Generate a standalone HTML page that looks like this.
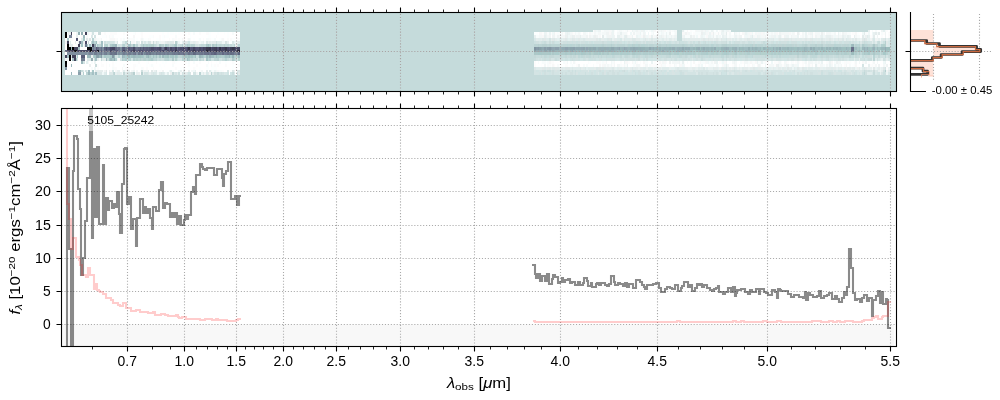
<!DOCTYPE html>
<html><head><meta charset="utf-8"><title>5105_25242 spectrum</title>
<style>html,body{margin:0;padding:0;background:#fff}svg{display:block;will-change:transform}</style></head>
<body>
<svg width="1000" height="400" viewBox="0 0 1000 400" font-family="'Liberation Sans', sans-serif" fill="#000">
<rect width="1000" height="400" fill="#fff"/>
<g shape-rendering="crispEdges">
<rect x="61.5" y="12.5" width="835" height="79" fill="#c5dbdb"/>
<path fill="#ffffff" d="M65 32H66.62V35H65zM71.48 32H73.1V35H71.48zM74.72 32H76.34V35H74.72zM79.58 32H81.2V35H79.58zM82.82 32H86.06V35H82.82zM92.55 32H94.17V35H92.55zM97.41 32H103.89V35H97.41zM105.51 32H110.37V35H105.51zM116.85 32H123.33V35H116.85zM124.95 32H133.06V35H124.95zM136.3 32H139.54V35H136.3zM142.78 32H162.22V35H142.78zM163.84 32H167.08V35H163.84zM168.7 32H170.32V35H168.7zM173.56 32H175.19V35H173.56zM176.81 32H178.43V35H176.81zM180.05 32H181.67V35H180.05zM183.29 32H184.91V35H183.29zM186.53 32H188.15V35H186.53zM191.39 32H193.01V35H191.39zM194.63 32H199.49V35H194.63zM201.11 32H205.97V35H201.11zM210.83 32H217.31V35H210.83zM218.94 32H223.8V35H218.94zM225.42 32H227.04V35H225.42zM228.66 32H231.9V35H228.66zM233.52 32H240V35H233.52zM65 35H66.62V38H65zM69.86 35H71.48V38H69.86zM73.1 35H76.34V38H73.1zM77.96 35H81.2V38H77.96zM84.44 35H86.06V38H84.44zM87.69 35H90.93V38H87.69zM92.55 35H94.17V38H92.55zM95.79 35H102.27V38H95.79zM107.13 35H108.75V38H107.13zM113.61 35H123.33V38H113.61zM124.95 35H128.19V38H124.95zM129.81 35H133.06V38H129.81zM134.68 35H141.16V38H134.68zM142.78 35H149.26V38H142.78zM154.12 35H158.98V38H154.12zM160.6 35H162.22V38H160.6zM168.7 35H175.19V38H168.7zM176.81 35H189.77V38H176.81zM191.39 35H207.59V38H191.39zM210.83 35H215.69V38H210.83zM217.31 35H227.04V38H217.31zM228.66 35H240V38H228.66zM65 38H66.62V41H65zM73.1 38H74.72V41H73.1zM77.96 38H81.2V41H77.96zM84.44 38H86.06V41H84.44zM92.55 38H94.17V41H92.55zM102.27 38H105.51V41H102.27zM107.13 38H108.75V41H107.13zM118.47 38H120.09V41H118.47zM134.68 38H136.3V41H134.68zM137.92 38H139.54V41H137.92zM150.88 38H152.5V41H150.88zM154.12 38H155.74V41H154.12zM160.6 38H162.22V41H160.6zM165.46 38H168.7V41H165.46zM170.32 38H171.94V41H170.32zM184.91 38H186.53V41H184.91zM191.39 38H193.01V41H191.39zM194.63 38H197.87V41H194.63zM201.11 38H202.73V41H201.11zM204.35 38H205.97V41H204.35zM215.69 38H218.94V41H215.69zM225.42 38H227.04V41H225.42zM228.66 38H230.28V41H228.66zM235.14 38H236.76V41H235.14zM68.24 41H69.86V44H68.24zM73.1 41H74.72V44H73.1zM76.34 41H77.96V44H76.34zM79.58 41H81.2V44H79.58zM86.06 41H87.69V44H86.06zM89.31 41H90.93V44H89.31zM107.13 41H108.75V44H107.13zM118.47 41H120.09V44H118.47zM139.54 41H141.16V44H139.54zM228.66 41H230.28V44H228.66zM65 44H66.62V47H65zM73.1 44H76.34V47H73.1zM102.27 44H103.89V47H102.27zM79.58 55H81.2V58H79.58zM84.44 55H86.06V58H84.44zM79.58 58H81.2V61H79.58zM65 61H66.62V64H65zM68.24 61H69.86V64H68.24zM71.48 61H77.96V64H71.48zM79.58 61H81.2V64H79.58zM84.44 61H86.06V64H84.44zM89.31 61H90.93V64H89.31zM92.55 61H94.17V64H92.55zM95.79 61H100.65V64H95.79zM102.27 61H105.51V64H102.27zM107.13 61H111.99V64H107.13zM113.61 61H115.23V64H113.61zM116.85 61H129.81V64H116.85zM131.44 61H137.92V64H131.44zM139.54 61H146.02V64H139.54zM149.26 61H155.74V64H149.26zM157.36 61H162.22V64H157.36zM163.84 61H165.46V64H163.84zM167.08 61H171.94V64H167.08zM176.81 61H184.91V64H176.81zM189.77 61H193.01V64H189.77zM194.63 61H199.49V64H194.63zM201.11 61H207.59V64H201.11zM209.21 61H210.83V64H209.21zM212.45 61H215.69V64H212.45zM217.31 61H218.94V64H217.31zM220.56 61H225.42V64H220.56zM227.04 61H231.9V64H227.04zM235.14 61H240V64H235.14zM65 64H66.62V67H65zM68.24 64H71.48V67H68.24zM73.1 64H76.34V67H73.1zM79.58 64H81.2V67H79.58zM84.44 64H89.31V67H84.44zM90.93 64H95.79V67H90.93zM99.03 64H100.65V67H99.03zM103.89 64H105.51V67H103.89zM107.13 64H108.75V67H107.13zM110.37 64H111.99V67H110.37zM115.23 64H123.33V67H115.23zM124.95 64H133.06V67H124.95zM137.92 64H139.54V67H137.92zM141.16 64H146.02V67H141.16zM147.64 64H149.26V67H147.64zM154.12 64H158.98V67H154.12zM160.6 64H163.84V67H160.6zM165.46 64H171.94V67H165.46zM173.56 64H186.53V67H173.56zM189.77 64H196.25V67H189.77zM197.87 64H205.97V67H197.87zM209.21 64H210.83V67H209.21zM218.94 64H225.42V67H218.94zM227.04 64H231.9V67H227.04zM233.52 64H238.38V67H233.52zM65 67H66.62V70H65zM68.24 67H69.86V70H68.24zM71.48 67H76.34V70H71.48zM77.96 67H81.2V70H77.96zM84.44 67H87.69V70H84.44zM89.31 67H90.93V70H89.31zM92.55 67H94.17V70H92.55zM95.79 67H97.41V70H95.79zM99.03 67H105.51V70H99.03zM107.13 67H111.99V70H107.13zM116.85 67H121.71V70H116.85zM126.57 67H128.19V70H126.57zM129.81 67H133.06V70H129.81zM134.68 67H141.16V70H134.68zM144.4 67H146.02V70H144.4zM147.64 67H152.5V70H147.64zM154.12 67H160.6V70H154.12zM162.22 67H175.19V70H162.22zM176.81 67H180.05V70H176.81zM181.67 67H183.29V70H181.67zM184.91 67H188.15V70H184.91zM189.77 67H193.01V70H189.77zM196.25 67H199.49V70H196.25zM201.11 67H205.97V70H201.11zM209.21 67H210.83V70H209.21zM217.31 67H231.9V70H217.31zM233.52 67H240V70H233.52zM65 70H66.62V72H65zM71.48 70H77.96V72H71.48zM89.31 70H90.93V72H89.31zM92.55 70H95.79V72H92.55zM100.65 70H102.27V72H100.65zM107.13 70H108.75V72H107.13zM113.61 70H115.23V72H113.61zM120.09 70H121.71V72H120.09zM129.81 70H131.44V72H129.81zM134.68 70H136.3V72H134.68zM137.92 70H139.54V72H137.92zM149.26 70H150.88V72H149.26zM163.84 70H165.46V72H163.84zM173.56 70H176.81V72H173.56zM181.67 70H183.29V72H181.67zM184.91 70H188.15V72H184.91zM189.77 70H191.39V72H189.77zM196.25 70H199.49V72H196.25zM202.73 70H205.97V72H202.73zM207.59 70H209.21V72H207.59zM223.8 70H227.04V72H223.8zM228.66 70H230.28V72H228.66zM235.14 70H236.76V72H235.14zM74.72 72H76.34V75H74.72zM79.58 72H81.2V75H79.58zM107.13 72H108.75V75H107.13zM191.39 72H193.01V75H191.39zM228.66 72H230.28V75H228.66z"/>
<path fill="#f8fcfc" d="M66.62 32H68.24V35H66.62zM94.17 32H95.79V35H94.17zM193.01 32H194.63V35H193.01zM231.9 32H233.52V35H231.9zM68.24 35H69.86V38H68.24zM108.75 35H110.37V38H108.75zM111.99 35H113.61V38H111.99zM175.19 35H176.81V38H175.19zM69.86 38H71.48V41H69.86zM97.41 38H99.03V41H97.41zM116.85 38H118.47V41H116.85zM123.33 38H124.95V41H123.33zM128.19 38H129.81V41H128.19zM133.06 38H134.68V41H133.06zM142.78 38H144.4V41H142.78zM147.64 38H149.26V41H147.64zM171.94 38H173.56V41H171.94zM189.77 38H191.39V41H189.77zM199.49 38H201.11V41H199.49zM205.97 38H209.21V41H205.97zM214.07 38H215.69V41H214.07zM220.56 38H222.18V41H220.56zM120.09 41H121.71V44H120.09zM180.05 41H181.67V44H180.05zM204.35 41H205.97V44H204.35zM68.24 44H69.86V47H68.24zM76.34 44H77.96V47H76.34zM82.82 44H84.44V47H82.82zM82.82 61H84.44V64H82.82zM90.93 61H92.55V64H90.93zM188.15 61H189.77V64H188.15zM193.01 61H194.63V64H193.01zM207.59 61H209.21V64H207.59zM218.94 61H220.56V64H218.94zM77.96 64H79.58V67H77.96zM108.75 64H110.37V67H108.75zM123.33 64H124.95V67H123.33zM150.88 64H152.5V67H150.88zM171.94 64H173.56V67H171.94zM205.97 64H207.59V67H205.97zM210.83 64H212.45V67H210.83zM82.82 67H84.44V70H82.82zM90.93 67H92.55V70H90.93zM111.99 67H113.61V70H111.99zM141.16 67H142.78V70H141.16zM183.29 67H184.91V70H183.29zM84.44 70H86.06V72H84.44zM102.27 70H103.89V72H102.27zM139.54 70H141.16V72H139.54zM158.98 70H160.6V72H158.98zM171.94 70H173.56V72H171.94zM212.45 70H214.07V72H212.45zM218.94 70H222.18V72H218.94zM230.28 70H231.9V72H230.28zM92.55 72H94.17V75H92.55zM134.68 72H136.3V75H134.68zM168.7 72H170.32V75H168.7zM197.87 72H199.49V75H197.87z"/>
<path fill="#ecf0f0" d="M68.24 32H69.86V35H68.24zM196.25 41H197.87V44H196.25zM207.59 41H209.21V44H207.59zM236.76 41H238.38V44H236.76zM235.14 44H236.76V47H235.14zM90.93 55H92.55V58H90.93zM89.31 64H90.93V67H89.31zM76.34 67H77.96V70H76.34zM108.75 70H110.37V72H108.75zM116.85 70H118.47V72H116.85zM188.15 70H189.77V72H188.15zM233.52 70H235.14V72H233.52zM137.92 72H139.54V75H137.92zM170.32 72H171.94V75H170.32z"/>
<path fill="#e4ecec" d="M69.86 32H71.48V35H69.86zM77.96 32H79.58V35H77.96zM81.2 32H82.82V35H81.2zM74.72 41H76.34V44H74.72zM92.55 41H94.17V44H92.55zM99.03 41H100.65V44H99.03zM165.46 41H167.08V44H165.46zM193.01 41H194.63V44H193.01zM209.21 41H210.83V44H209.21zM212.45 41H215.69V44H212.45zM220.56 41H222.18V44H220.56zM238.38 41H240V44H238.38zM84.44 44H86.06V47H84.44zM97.41 58H99.03V61H97.41zM103.89 58H105.51V61H103.89zM126.57 70H128.19V72H126.57zM183.29 70H184.91V72H183.29zM205.97 70H207.59V72H205.97zM118.47 72H120.09V75H118.47zM176.81 72H178.43V75H176.81zM184.91 72H186.53V75H184.91zM212.45 72H214.07V75H212.45z"/>
<path fill="#fcfcfc" d="M73.1 32H74.72V35H73.1zM89.31 32H90.93V35H89.31zM95.79 32H97.41V35H95.79zM103.89 32H105.51V35H103.89zM110.37 32H116.85V35H110.37zM123.33 32H124.95V35H123.33zM134.68 32H136.3V35H134.68zM141.16 32H142.78V35H141.16zM188.15 32H189.77V35H188.15zM199.49 32H201.11V35H199.49zM205.97 32H209.21V35H205.97zM66.62 35H68.24V38H66.62zM71.48 35H73.1V38H71.48zM105.51 35H107.13V38H105.51zM110.37 35H111.99V38H110.37zM141.16 35H142.78V38H141.16zM152.5 35H154.12V38H152.5zM158.98 35H160.6V38H158.98zM163.84 35H165.46V38H163.84zM215.69 35H217.31V38H215.69zM71.48 38H73.1V41H71.48zM90.93 38H92.55V41H90.93zM99.03 38H100.65V41H99.03zM108.75 38H110.37V41H108.75zM115.23 38H116.85V41H115.23zM120.09 38H121.71V41H120.09zM126.57 38H128.19V41H126.57zM129.81 38H133.06V41H129.81zM139.54 38H141.16V41H139.54zM149.26 38H150.88V41H149.26zM158.98 38H160.6V41H158.98zM168.7 38H170.32V41H168.7zM173.56 38H176.81V41H173.56zM178.43 38H180.05V41H178.43zM183.29 38H184.91V41H183.29zM186.53 38H188.15V41H186.53zM202.73 38H204.35V41H202.73zM209.21 38H210.83V41H209.21zM227.04 38H228.66V41H227.04zM230.28 38H231.9V41H230.28zM236.76 38H240V41H236.76zM134.68 41H136.3V44H134.68zM68.24 58H69.86V61H68.24zM84.44 58H86.06V61H84.44zM100.65 61H102.27V64H100.65zM105.51 61H107.13V64H105.51zM111.99 61H113.61V64H111.99zM137.92 61H139.54V64H137.92zM147.64 61H149.26V64H147.64zM155.74 61H157.36V64H155.74zM171.94 61H175.19V64H171.94zM184.91 61H186.53V64H184.91zM199.49 61H201.11V64H199.49zM210.83 61H212.45V64H210.83zM231.9 61H233.52V64H231.9zM95.79 64H99.03V67H95.79zM100.65 64H103.89V67H100.65zM105.51 64H107.13V67H105.51zM111.99 64H113.61V67H111.99zM133.06 64H136.3V67H133.06zM188.15 64H189.77V67H188.15zM196.25 64H197.87V67H196.25zM214.07 64H215.69V67H214.07zM217.31 64H218.94V67H217.31zM225.42 64H227.04V67H225.42zM238.38 64H240V67H238.38zM97.41 67H99.03V70H97.41zM105.51 67H107.13V70H105.51zM113.61 67H116.85V70H113.61zM124.95 67H126.57V70H124.95zM128.19 67H129.81V70H128.19zM133.06 67H134.68V70H133.06zM142.78 67H144.4V70H142.78zM146.02 67H147.64V70H146.02zM152.5 67H154.12V70H152.5zM175.19 67H176.81V70H175.19zM193.01 67H194.63V70H193.01zM157.36 70H158.98V72H157.36zM160.6 70H162.22V72H160.6zM199.49 70H201.11V72H199.49zM222.18 70H223.8V72H222.18zM65 72H66.62V75H65zM73.1 72H74.72V75H73.1zM139.54 72H141.16V75H139.54z"/>
<path fill="#ecf4f4" d="M76.34 32H77.96V35H76.34zM115.23 41H116.85V44H115.23zM158.98 41H160.6V44H158.98zM163.84 41H165.46V44H163.84zM178.43 41H180.05V44H178.43zM197.87 41H199.49V44H197.87zM201.11 41H202.73V44H201.11zM233.52 41H235.14V44H233.52zM77.96 55H79.58V58H77.96zM116.85 58H118.47V61H116.85zM69.86 61H71.48V64H69.86zM94.17 61H95.79V64H94.17zM133.06 70H134.68V72H133.06zM144.4 70H146.02V72H144.4zM214.07 70H215.69V72H214.07zM201.11 72H202.73V75H201.11z"/>
<path fill="#f4f8f8" d="M86.06 32H87.69V35H86.06zM90.93 32H92.55V35H90.93zM86.06 35H87.69V38H86.06zM76.34 38H77.96V41H76.34zM100.65 38H102.27V41H100.65zM141.16 38H142.78V41H141.16zM188.15 38H189.77V41H188.15zM102.27 41H103.89V44H102.27zM133.06 41H134.68V44H133.06zM199.49 41H201.11V44H199.49zM223.8 41H225.42V44H223.8zM66.62 44H68.24V47H66.62zM71.48 58H73.1V61H71.48zM99.03 58H100.65V61H99.03zM87.69 61H89.31V64H87.69zM76.34 64H77.96V67H76.34zM81.2 67H82.82V70H81.2zM79.58 70H81.2V72H79.58zM90.93 70H92.55V72H90.93zM115.23 70H116.85V72H115.23zM121.71 70H123.33V72H121.71zM124.95 70H126.57V72H124.95zM131.44 70H133.06V72H131.44zM136.3 70H137.92V72H136.3zM152.5 70H154.12V72H152.5zM191.39 70H193.01V72H191.39zM201.11 70H202.73V72H201.11zM215.69 70H217.31V72H215.69zM121.71 72H123.33V75H121.71zM180.05 72H181.67V75H180.05z"/>
<path fill="#f0f8f8" d="M87.69 32H89.31V35H87.69zM128.19 41H129.81V44H128.19zM222.18 41H223.8V44H222.18zM235.14 41H236.76V44H235.14zM89.31 58H90.93V61H89.31zM77.96 61H79.58V64H77.96zM94.17 67H95.79V70H94.17zM99.03 70H100.65V72H99.03zM168.7 70H170.32V72H168.7zM178.43 70H180.05V72H178.43zM193.01 70H194.63V72H193.01zM210.83 70H212.45V72H210.83zM102.27 72H103.89V75H102.27zM157.36 72H158.98V75H157.36zM165.46 72H167.08V75H165.46z"/>
<path fill="#fcffff" d="M133.06 32H134.68V35H133.06zM139.54 32H141.16V35H139.54zM162.22 32H163.84V35H162.22zM167.08 32H168.7V35H167.08zM170.32 32H173.56V35H170.32zM175.19 32H176.81V35H175.19zM178.43 32H180.05V35H178.43zM181.67 32H183.29V35H181.67zM184.91 32H186.53V35H184.91zM189.77 32H191.39V35H189.77zM209.21 32H210.83V35H209.21zM217.31 32H218.94V35H217.31zM223.8 32H225.42V35H223.8zM227.04 32H228.66V35H227.04zM102.27 35H105.51V38H102.27zM123.33 35H124.95V38H123.33zM128.19 35H129.81V38H128.19zM149.26 35H152.5V38H149.26zM162.22 35H163.84V38H162.22zM165.46 35H168.7V38H165.46zM189.77 35H191.39V38H189.77zM207.59 35H210.83V38H207.59zM227.04 35H228.66V38H227.04zM68.24 38H69.86V41H68.24zM74.72 38H76.34V41H74.72zM82.82 38H84.44V41H82.82zM105.51 38H107.13V41H105.51zM121.71 38H123.33V41H121.71zM124.95 38H126.57V41H124.95zM136.3 38H137.92V41H136.3zM144.4 38H147.64V41H144.4zM152.5 38H154.12V41H152.5zM155.74 38H158.98V41H155.74zM162.22 38H165.46V41H162.22zM176.81 38H178.43V41H176.81zM180.05 38H181.67V41H180.05zM193.01 38H194.63V41H193.01zM197.87 38H199.49V41H197.87zM210.83 38H214.07V41H210.83zM218.94 38H220.56V41H218.94zM223.8 38H225.42V41H223.8zM231.9 38H235.14V41H231.9zM71.48 41H73.1V44H71.48zM230.28 41H231.9V44H230.28zM65 58H66.62V61H65zM115.23 61H116.85V64H115.23zM129.81 61H131.44V64H129.81zM146.02 61H147.64V64H146.02zM162.22 61H163.84V64H162.22zM165.46 61H167.08V64H165.46zM175.19 61H176.81V64H175.19zM186.53 61H188.15V64H186.53zM215.69 61H217.31V64H215.69zM225.42 61H227.04V64H225.42zM233.52 61H235.14V64H233.52zM113.61 64H115.23V67H113.61zM136.3 64H137.92V67H136.3zM139.54 64H141.16V67H139.54zM146.02 64H147.64V67H146.02zM149.26 64H150.88V67H149.26zM152.5 64H154.12V67H152.5zM158.98 64H160.6V67H158.98zM163.84 64H165.46V67H163.84zM186.53 64H188.15V67H186.53zM207.59 64H209.21V67H207.59zM212.45 64H214.07V67H212.45zM215.69 64H217.31V67H215.69zM231.9 64H233.52V67H231.9zM66.62 67H68.24V70H66.62zM69.86 67H71.48V70H69.86zM87.69 67H89.31V70H87.69zM123.33 67H124.95V70H123.33zM160.6 67H162.22V70H160.6zM180.05 67H181.67V70H180.05zM188.15 67H189.77V70H188.15zM194.63 67H196.25V70H194.63zM199.49 67H201.11V70H199.49zM205.97 67H209.21V70H205.97zM210.83 67H217.31V70H210.83zM231.9 67H233.52V70H231.9zM165.46 70H168.7V72H165.46zM176.81 70H178.43V72H176.81zM84.44 72H86.06V75H84.44zM235.14 72H236.76V75H235.14z"/>
<path fill="#e8f0f0" d="M76.34 35H77.96V38H76.34zM77.96 41H79.58V44H77.96zM82.82 41H84.44V44H82.82zM108.75 41H110.37V44H108.75zM137.92 41H139.54V44H137.92zM142.78 41H144.4V44H142.78zM154.12 41H155.74V44H154.12zM181.67 41H183.29V44H181.67zM189.77 41H193.01V44H189.77zM202.73 41H204.35V44H202.73zM210.83 41H212.45V44H210.83zM227.04 41H228.66V44H227.04zM79.58 44H81.2V47H79.58zM87.69 44H89.31V47H87.69zM77.96 58H79.58V61H77.96zM66.62 61H68.24V64H66.62zM66.62 64H68.24V67H66.62zM86.06 70H89.31V72H86.06zM118.47 70H120.09V72H118.47zM128.19 70H129.81V72H128.19zM154.12 70H155.74V72H154.12zM180.05 70H181.67V72H180.05zM194.63 70H196.25V72H194.63zM66.62 72H68.24V75H66.62zM110.37 72H111.99V75H110.37zM115.23 72H116.85V75H115.23zM136.3 72H137.92V75H136.3zM142.78 72H144.4V75H142.78zM149.26 72H150.88V75H149.26z"/>
<path fill="#f8f8f8" d="M81.2 35H82.82V38H81.2zM133.06 35H134.68V38H133.06zM87.69 38H89.31V41H87.69zM95.79 38H97.41V41H95.79zM110.37 38H115.23V41H110.37zM181.67 38H183.29V41H181.67zM222.18 38H223.8V41H222.18zM84.44 41H86.06V44H84.44zM131.44 41H133.06V44H131.44zM173.56 41H175.19V44H173.56zM118.47 58H120.09V61H118.47zM121.71 67H123.33V70H121.71zM95.79 70H97.41V72H95.79zM110.37 70H111.99V72H110.37zM217.31 70H218.94V72H217.31z"/>
<path fill="#f0f4f4" d="M82.82 35H84.44V38H82.82zM94.17 38H95.79V41H94.17zM65 41H66.62V44H65zM97.41 41H99.03V44H97.41zM150.88 41H152.5V44H150.88zM160.6 41H163.84V44H160.6zM92.55 58H94.17V61H92.55zM103.89 70H105.51V72H103.89zM142.78 70H144.4V72H142.78zM146.02 70H147.64V72H146.02zM162.22 70H163.84V72H162.22zM81.2 72H82.82V75H81.2zM99.03 72H102.27V75H99.03zM196.25 72H197.87V75H196.25zM204.35 72H205.97V75H204.35zM209.21 72H210.83V75H209.21z"/>
<path fill="#dce8e8" d="M90.93 35H92.55V38H90.93zM89.31 38H90.93V41H89.31zM66.62 41H68.24V44H66.62zM105.51 41H107.13V44H105.51zM116.85 41H118.47V44H116.85zM123.33 41H124.95V44H123.33zM170.32 41H171.94V44H170.32zM183.29 41H184.91V44H183.29zM186.53 41H188.15V44H186.53zM205.97 41H207.59V44H205.97zM231.9 41H233.52V44H231.9zM107.13 44H108.75V47H107.13zM116.85 44H118.47V47H116.85zM137.92 44H139.54V47H137.92zM86.06 58H89.31V61H86.06zM82.82 70H84.44V72H82.82zM155.74 70H157.36V72H155.74zM227.04 70H228.66V72H227.04zM231.9 70H233.52V72H231.9zM236.76 70H238.38V72H236.76zM68.24 72H69.86V75H68.24zM147.64 72H149.26V75H147.64zM150.88 72H152.5V75H150.88zM155.74 72H157.36V75H155.74zM158.98 72H160.6V75H158.98zM173.56 72H175.19V75H173.56zM183.29 72H184.91V75H183.29zM186.53 72H188.15V75H186.53zM223.8 72H225.42V75H223.8zM233.52 72H235.14V75H233.52z"/>
<path fill="#d4e4e4" d="M94.17 35H95.79V38H94.17zM66.62 38H68.24V41H66.62zM100.65 41H102.27V44H100.65zM147.64 41H149.26V44H147.64zM176.81 41H178.43V44H176.81zM90.93 44H92.55V47H90.93zM95.79 44H97.41V47H95.79zM157.36 44H158.98V47H157.36zM176.81 44H178.43V47H176.81zM183.29 44H184.91V47H183.29zM210.83 44H212.45V47H210.83zM116.85 55H118.47V58H116.85zM126.57 58H128.19V61H126.57zM180.05 58H181.67V61H180.05zM236.76 58H238.38V61H236.76zM81.2 64H82.82V67H81.2zM77.96 70H79.58V72H77.96zM97.41 70H99.03V72H97.41zM94.17 72H95.79V75H94.17zM128.19 72H129.81V75H128.19zM144.4 72H147.64V75H144.4zM152.5 72H154.12V75H152.5zM160.6 72H162.22V75H160.6zM175.19 72H176.81V75H175.19zM181.67 72H183.29V75H181.67zM193.01 72H196.25V75H193.01zM215.69 72H217.31V75H215.69zM218.94 72H220.56V75H218.94zM222.18 72H223.8V75H222.18z"/>
<path fill="#e0ecec" d="M81.2 38H82.82V41H81.2zM69.86 41H71.48V44H69.86zM121.71 41H123.33V44H121.71zM136.3 41H137.92V44H136.3zM157.36 41H158.98V44H157.36zM168.7 41H170.32V44H168.7zM217.31 41H220.56V44H217.31zM102.27 58H103.89V61H102.27zM123.33 70H124.95V72H123.33zM147.64 70H149.26V72H147.64zM209.21 70H210.83V72H209.21zM87.69 72H89.31V75H87.69zM103.89 72H105.51V75H103.89zM116.85 72H118.47V75H116.85zM124.95 72H128.19V75H124.95zM163.84 72H165.46V75H163.84zM167.08 72H168.7V75H167.08zM202.73 72H204.35V75H202.73z"/>
<path fill="#e0e8e8" d="M86.06 38H87.69V41H86.06zM167.08 41H168.7V44H167.08zM171.94 41H173.56V44H171.94zM184.91 41H186.53V44H184.91zM77.96 44H79.58V47H77.96zM204.35 58H205.97V61H204.35zM105.51 70H107.13V72H105.51zM150.88 70H152.5V72H150.88zM207.59 72H209.21V75H207.59zM238.38 72H240V75H238.38z"/>
<path fill="#a0bcc0" d="M81.2 41H82.82V44H81.2zM89.31 44H90.93V47H89.31zM86.06 55H87.69V58H86.06zM123.33 55H124.95V58H123.33zM134.68 55H136.3V58H134.68zM201.11 55H202.73V58H201.11zM210.83 55H214.07V58H210.83zM225.42 55H227.04V58H225.42zM105.51 58H107.13V61H105.51z"/>
<path fill="#cce0e0" d="M87.69 41H89.31V44H87.69zM126.57 44H128.19V47H126.57zM139.54 44H141.16V47H139.54zM163.84 44H165.46V47H163.84zM231.9 44H233.52V47H231.9zM115.23 55H116.85V58H115.23zM120.09 55H121.71V58H120.09zM66.62 58H68.24V61H66.62zM157.36 58H158.98V61H157.36zM210.83 58H214.07V61H210.83zM218.94 58H220.56V61H218.94zM228.66 58H230.28V61H228.66zM76.34 72H77.96V75H76.34zM178.43 72H180.05V75H178.43zM236.76 72H238.38V75H236.76z"/>
<path fill="#c4d8d8" d="M90.93 41H92.55V44H90.93zM92.55 44H94.17V47H92.55zM131.44 44H133.06V47H131.44zM170.32 44H171.94V47H170.32zM180.05 44H181.67V47H180.05zM202.73 44H204.35V47H202.73zM222.18 44H223.8V47H222.18zM230.28 44H231.9V47H230.28zM84.44 47H86.06V50H84.44zM100.65 58H102.27V61H100.65zM189.77 58H191.39V61H189.77zM222.18 58H223.8V61H222.18zM227.04 58H228.66V61H227.04zM235.14 58H236.76V61H235.14zM111.99 72H113.61V75H111.99zM123.33 72H124.95V75H123.33zM171.94 72H173.56V75H171.94z"/>
<path fill="#bcd4d4" d="M94.17 41H95.79V44H94.17zM97.41 44H99.03V47H97.41zM121.71 44H123.33V47H121.71zM136.3 44H137.92V47H136.3zM141.16 44H142.78V47H141.16zM171.94 44H173.56V47H171.94zM184.91 44H186.53V47H184.91zM218.94 44H220.56V47H218.94zM227.04 44H228.66V47H227.04zM233.52 44H235.14V47H233.52zM238.38 44H240V47H238.38zM79.58 47H81.2V50H79.58zM65 55H66.62V58H65zM102.27 55H103.89V58H102.27zM157.36 55H158.98V58H157.36zM180.05 55H181.67V58H180.05zM134.68 58H136.3V61H134.68zM137.92 58H139.54V61H137.92zM146.02 58H147.64V61H146.02zM152.5 58H154.12V61H152.5zM155.74 58H157.36V61H155.74zM165.46 58H167.08V61H165.46zM183.29 58H184.91V61H183.29zM199.49 58H201.11V61H199.49zM207.59 58H209.21V61H207.59zM214.07 58H217.31V61H214.07zM86.06 72H87.69V75H86.06zM89.31 72H90.93V75H89.31zM95.79 72H97.41V75H95.79zM113.61 72H115.23V75H113.61zM199.49 72H201.11V75H199.49zM210.83 72H212.45V75H210.83z"/>
<path fill="#a0c0c0" d="M95.79 41H97.41V44H95.79zM131.44 55H133.06V58H131.44zM137.92 55H141.16V58H137.92zM146.02 55H147.64V58H146.02zM167.08 55H168.7V58H167.08zM188.15 55H189.77V58H188.15zM194.63 55H196.25V58H194.63zM186.53 58H188.15V61H186.53z"/>
<path fill="#d0e0e0" d="M103.89 41H105.51V44H103.89zM141.16 41H142.78V44H141.16zM215.69 41H217.31V44H215.69zM69.86 44H71.48V47H69.86zM108.75 44H110.37V47H108.75zM124.95 44H126.57V47H124.95zM194.63 44H197.87V47H194.63zM236.76 44H238.38V47H236.76zM69.86 58H71.48V61H69.86zM120.09 58H121.71V61H120.09zM160.6 58H163.84V61H160.6zM173.56 58H175.19V61H173.56zM220.56 58H222.18V61H220.56zM141.16 70H142.78V72H141.16zM214.07 72H215.69V75H214.07zM220.56 72H222.18V75H220.56z"/>
<path fill="#b0cccc" d="M110.37 41H111.99V44H110.37zM110.37 44H111.99V47H110.37zM152.5 44H154.12V47H152.5zM173.56 44H175.19V47H173.56zM181.67 44H183.29V47H181.67zM92.55 55H94.17V58H92.55zM105.51 55H110.37V58H105.51zM181.67 55H183.29V58H181.67zM193.01 55H194.63V58H193.01zM220.56 55H223.8V58H220.56zM233.52 55H235.14V58H233.52zM133.06 58H134.68V61H133.06zM188.15 58H189.77V61H188.15z"/>
<path fill="#d8e8e8" d="M111.99 41H115.23V44H111.99zM126.57 41H128.19V44H126.57zM144.4 41H146.02V44H144.4zM197.87 58H199.49V61H197.87zM81.2 61H82.82V64H81.2zM111.99 70H113.61V72H111.99zM105.51 72H107.13V75H105.51zM154.12 72H155.74V75H154.12zM162.22 72H163.84V75H162.22zM205.97 72H207.59V75H205.97zM225.42 72H227.04V75H225.42z"/>
<path fill="#c4dcdc" d="M124.95 41H126.57V44H124.95zM204.35 44H205.97V47H204.35zM82.82 58H84.44V61H82.82zM168.7 58H170.32V61H168.7zM193.01 58H196.25V61H193.01zM69.86 70H71.48V72H69.86z"/>
<path fill="#c0d8d8" d="M129.81 41H131.44V44H129.81zM154.12 44H155.74V47H154.12zM189.77 44H191.39V47H189.77zM201.11 44H202.73V47H201.11zM217.31 44H218.94V47H217.31zM220.56 44H222.18V47H220.56zM225.42 44H227.04V47H225.42zM89.31 55H90.93V58H89.31zM160.6 55H162.22V58H160.6zM197.87 55H199.49V58H197.87zM154.12 58H155.74V61H154.12zM163.84 58H165.46V61H163.84zM196.25 58H197.87V61H196.25zM202.73 58H204.35V61H202.73zM223.8 58H225.42V61H223.8zM77.96 72H79.58V75H77.96z"/>
<path fill="#e4f0f0" d="M146.02 41H147.64V44H146.02zM194.63 41H196.25V44H194.63zM73.1 58H74.72V61H73.1zM86.06 61H87.69V64H86.06zM71.48 64H73.1V67H71.48zM68.24 70H69.86V72H68.24zM170.32 70H171.94V72H170.32zM69.86 72H73.1V75H69.86zM120.09 72H121.71V75H120.09z"/>
<path fill="#d8e4e4" d="M149.26 41H150.88V44H149.26zM155.74 41H157.36V44H155.74zM225.42 41H227.04V44H225.42zM120.09 44H121.71V47H120.09zM197.87 44H199.49V47H197.87zM76.34 58H77.96V61H76.34zM82.82 64H84.44V67H82.82zM238.38 70H240V72H238.38zM129.81 72H131.44V75H129.81zM189.77 72H191.39V75H189.77z"/>
<path fill="#ccdcdc" d="M152.5 41H154.12V44H152.5zM113.61 44H115.23V47H113.61zM168.7 44H170.32V47H168.7zM107.13 58H108.75V61H107.13zM230.28 58H231.9V61H230.28zM131.44 72H133.06V75H131.44z"/>
<path fill="#b8d0d0" d="M175.19 41H176.81V44H175.19zM103.89 44H105.51V47H103.89zM160.6 44H163.84V47H160.6zM167.08 44H168.7V47H167.08zM193.01 44H194.63V47H193.01zM214.07 44H215.69V47H214.07zM223.8 44H225.42V47H223.8zM77.96 47H79.58V50H77.96zM68.24 55H69.86V58H68.24zM74.72 55H76.34V58H74.72zM144.4 55H146.02V58H144.4zM168.7 55H170.32V58H168.7zM173.56 55H175.19V58H173.56zM235.14 55H236.76V58H235.14zM123.33 58H124.95V61H123.33zM142.78 58H144.4V61H142.78zM217.31 58H218.94V61H217.31zM233.52 58H235.14V61H233.52zM90.93 72H92.55V75H90.93zM133.06 72H134.68V75H133.06zM141.16 72H142.78V75H141.16z"/>
<path fill="#d0e4e4" d="M188.15 41H189.77V44H188.15zM71.48 44H73.1V47H71.48zM118.47 44H120.09V47H118.47zM87.69 55H89.31V58H87.69zM131.44 58H133.06V61H131.44zM178.43 58H180.05V61H178.43zM108.75 72H110.37V75H108.75zM188.15 72H189.77V75H188.15zM227.04 72H228.66V75H227.04zM230.28 72H231.9V75H230.28z"/>
<path fill="#a4c4c4" d="M81.2 44H82.82V47H81.2zM111.99 44H113.61V47H111.99zM133.06 44H134.68V47H133.06zM175.19 44H176.81V47H175.19zM207.59 44H209.21V47H207.59zM65 47H66.62V50H65zM74.72 47H76.34V50H74.72zM94.17 55H95.79V58H94.17zM141.16 55H142.78V58H141.16zM152.5 55H154.12V58H152.5zM155.74 55H157.36V58H155.74zM158.98 55H160.6V58H158.98zM165.46 55H167.08V58H165.46zM171.94 55H173.56V58H171.94zM175.19 55H176.81V58H175.19zM184.91 55H186.53V58H184.91zM191.39 55H193.01V58H191.39zM111.99 58H113.61V61H111.99zM205.97 58H207.59V61H205.97z"/>
<path fill="#accccc" d="M86.06 44H87.69V47H86.06zM165.46 44H167.08V47H165.46zM176.81 55H178.43V58H176.81zM230.28 55H231.9V58H230.28zM121.71 58H123.33V61H121.71zM124.95 58H126.57V61H124.95zM150.88 58H152.5V61H150.88z"/>
<path fill="#8ca0ac" d="M94.17 44H95.79V47H94.17zM84.44 52H87.69V55H84.44zM95.79 55H97.41V58H95.79z"/>
<path fill="#c0d4d4" d="M99.03 44H100.65V47H99.03zM178.43 55H180.05V58H178.43zM141.16 58H142.78V61H141.16zM191.39 58H193.01V61H191.39z"/>
<path fill="#8094a0" d="M100.65 44H102.27V47H100.65zM81.2 52H82.82V55H81.2zM107.13 52H108.75V55H107.13zM120.09 52H121.71V55H120.09z"/>
<path fill="#b4d0d0" d="M105.51 44H107.13V47H105.51zM123.33 44H124.95V47H123.33zM149.26 44H150.88V47H149.26zM188.15 44H189.77V47H188.15zM191.39 44H193.01V47H191.39zM209.21 44H210.83V47H209.21zM73.1 55H74.72V58H73.1zM154.12 55H155.74V58H154.12zM204.35 55H205.97V58H204.35zM236.76 55H238.38V58H236.76zM74.72 58H76.34V61H74.72zM95.79 58H97.41V61H95.79zM115.23 58H116.85V61H115.23zM128.19 58H129.81V61H128.19zM147.64 58H149.26V61H147.64zM209.21 58H210.83V61H209.21zM225.42 58H227.04V61H225.42zM82.82 72H84.44V75H82.82zM97.41 72H99.03V75H97.41z"/>
<path fill="#9cb8bc" d="M115.23 44H116.85V47H115.23zM71.48 47H73.1V50H71.48zM77.96 52H79.58V55H77.96zM133.06 55H134.68V58H133.06zM162.22 55H163.84V58H162.22zM205.97 55H207.59V58H205.97zM215.69 55H217.31V58H215.69zM238.38 55H240V58H238.38zM81.2 58H82.82V61H81.2zM110.37 58H111.99V61H110.37z"/>
<path fill="#a4c0c4" d="M128.19 44H129.81V47H128.19zM136.3 55H137.92V58H136.3zM227.04 55H228.66V58H227.04z"/>
<path fill="#acc8c8" d="M129.81 44H131.44V47H129.81zM142.78 44H144.4V47H142.78zM158.98 44H160.6V47H158.98zM186.53 44H188.15V47H186.53zM205.97 44H207.59V47H205.97zM212.45 44H214.07V47H212.45zM66.62 55H68.24V58H66.62zM149.26 55H150.88V58H149.26zM183.29 55H184.91V58H183.29zM186.53 55H188.15V58H186.53zM214.07 55H215.69V58H214.07zM218.94 55H220.56V58H218.94zM171.94 58H173.56V61H171.94zM231.9 58H233.52V61H231.9zM66.62 70H68.24V72H66.62z"/>
<path fill="#c8dcdc" d="M134.68 44H136.3V47H134.68zM155.74 44H157.36V47H155.74zM178.43 44H180.05V47H178.43zM199.49 44H201.11V47H199.49zM228.66 44H230.28V47H228.66zM196.25 55H197.87V58H196.25zM94.17 58H95.79V61H94.17zM158.98 58H160.6V61H158.98zM170.32 58H171.94V61H170.32zM176.81 58H178.43V61H176.81zM184.91 58H186.53V61H184.91zM201.11 58H202.73V61H201.11zM81.2 70H82.82V72H81.2zM217.31 72H218.94V75H217.31zM231.9 72H233.52V75H231.9z"/>
<path fill="#b8d4d4" d="M144.4 44H146.02V47H144.4zM147.64 44H149.26V47H147.64zM118.47 55H120.09V58H118.47zM150.88 55H152.5V58H150.88zM167.08 58H168.7V61H167.08zM181.67 58H183.29V61H181.67z"/>
<path fill="#b4d0cc" d="M146.02 44H147.64V47H146.02zM150.88 44H152.5V47H150.88zM79.58 50H81.2V52H79.58zM129.81 58H131.44V61H129.81zM136.3 58H137.92V61H136.3zM139.54 58H141.16V61H139.54zM144.4 58H146.02V61H144.4zM149.26 58H150.88V61H149.26zM175.19 58H176.81V61H175.19zM238.38 58H240V61H238.38z"/>
<path fill="#a8c8c8" d="M215.69 44H217.31V47H215.69zM69.86 55H73.1V58H69.86zM76.34 55H77.96V58H76.34zM103.89 55H105.51V58H103.89zM110.37 55H111.99V58H110.37zM124.95 55H128.19V58H124.95zM129.81 55H131.44V58H129.81zM142.78 55H144.4V58H142.78zM163.84 55H165.46V58H163.84zM170.32 55H171.94V58H170.32zM189.77 55H191.39V58H189.77zM202.73 55H204.35V58H202.73zM207.59 55H209.21V58H207.59zM217.31 55H218.94V58H217.31zM223.8 55H225.42V58H223.8zM108.75 58H110.37V61H108.75z"/>
<path fill="#788898" d="M66.62 47H68.24V50H66.62zM82.82 47H84.44V50H82.82zM120.09 50H121.71V52H120.09zM99.03 52H100.65V55H99.03zM108.75 52H110.37V55H108.75zM121.71 52H123.33V55H121.71zM124.95 52H126.57V55H124.95zM131.44 52H133.06V55H131.44zM154.12 52H155.74V55H154.12zM184.91 52H186.53V55H184.91z"/>
<path fill="#94acb0" d="M68.24 47H69.86V50H68.24zM90.93 58H92.55V61H90.93z"/>
<path fill="#8ca4ac" d="M69.86 47H71.48V50H69.86zM73.1 52H74.72V55H73.1zM76.34 52H77.96V55H76.34z"/>
<path fill="#8494a4" d="M73.1 47H74.72V50H73.1zM74.72 52H76.34V55H74.72zM102.27 52H103.89V55H102.27zM136.3 52H137.92V55H136.3zM142.78 52H144.4V55H142.78z"/>
<path fill="#707c90" d="M76.34 47H77.96V50H76.34zM89.31 47H90.93V50H89.31zM116.85 47H118.47V50H116.85zM87.69 50H89.31V52H87.69zM99.03 50H100.65V52H99.03zM94.17 52H97.41V55H94.17zM105.51 52H107.13V55H105.51zM123.33 52H124.95V55H123.33zM128.19 52H131.44V55H128.19zM133.06 52H134.68V55H133.06zM147.64 52H149.26V55H147.64zM158.98 52H160.6V55H158.98zM167.08 52H168.7V55H167.08zM171.94 52H173.56V55H171.94zM175.19 52H178.43V55H175.19zM189.77 52H193.01V55H189.77zM196.25 52H199.49V55H196.25zM217.31 52H218.94V55H217.31zM220.56 52H222.18V55H220.56zM223.8 52H225.42V55H223.8z"/>
<path fill="#748094" d="M81.2 47H82.82V50H81.2zM87.69 47H89.31V50H87.69zM99.03 47H100.65V50H99.03zM68.24 50H71.48V52H68.24zM82.82 50H84.44V52H82.82zM92.55 50H94.17V52H92.55zM103.89 52H105.51V55H103.89zM152.5 52H154.12V55H152.5zM157.36 52H158.98V55H157.36zM162.22 52H163.84V55H162.22zM186.53 52H188.15V55H186.53zM202.73 52H204.35V55H202.73zM233.52 52H238.38V55H233.52z"/>
<path fill="#687088" d="M86.06 47H87.69V50H86.06zM100.65 47H102.27V50H100.65zM118.47 47H120.09V50H118.47zM136.3 47H137.92V50H136.3zM65 50H66.62V52H65zM71.48 50H73.1V52H71.48zM97.41 50H99.03V52H97.41zM103.89 50H105.51V52H103.89zM107.13 50H110.37V52H107.13zM126.57 50H128.19V52H126.57zM110.37 52H111.99V55H110.37zM115.23 52H116.85V55H115.23zM141.16 52H142.78V55H141.16zM183.29 52H184.91V55H183.29zM188.15 52H189.77V55H188.15zM204.35 52H207.59V55H204.35zM231.9 52H233.52V55H231.9z"/>
<path fill="#7c8c9c" d="M90.93 47H92.55V50H90.93zM102.27 47H103.89V50H102.27zM120.09 47H121.71V50H120.09zM97.41 52H99.03V55H97.41zM118.47 52H120.09V55H118.47zM81.2 55H82.82V58H81.2z"/>
<path fill="#6c788c" d="M92.55 47H94.17V50H92.55zM124.95 47H126.57V50H124.95zM111.99 52H113.61V55H111.99zM137.92 52H139.54V55H137.92zM155.74 52H157.36V55H155.74zM199.49 52H201.11V55H199.49zM218.94 52H220.56V55H218.94zM228.66 52H230.28V55H228.66z"/>
<path fill="#7c889c" d="M94.17 47H95.79V50H94.17zM84.44 50H86.06V52H84.44zM90.93 52H92.55V55H90.93z"/>
<path fill="#545474" d="M95.79 47H97.41V50H95.79zM128.19 47H129.81V50H128.19zM142.78 47H144.4V50H142.78zM154.12 47H155.74V50H154.12zM167.08 47H168.7V50H167.08zM171.94 47H175.19V50H171.94zM178.43 47H180.05V50H178.43zM184.91 47H186.53V50H184.91zM191.39 47H193.01V50H191.39zM196.25 47H197.87V50H196.25zM105.51 50H107.13V52H105.51zM146.02 50H147.64V52H146.02zM150.88 50H152.5V52H150.88zM176.81 50H178.43V52H176.81z"/>
<path fill="#646c84" d="M97.41 47H99.03V50H97.41zM168.7 47H170.32V50H168.7zM176.81 47H178.43V50H176.81zM77.96 50H79.58V52H77.96zM90.93 50H92.55V52H90.93zM111.99 50H113.61V52H111.99zM124.95 50H126.57V52H124.95zM165.46 50H167.08V52H165.46zM82.82 52H84.44V55H82.82zM194.63 52H196.25V55H194.63zM207.59 52H209.21V55H207.59zM212.45 52H214.07V55H212.45zM215.69 52H217.31V55H215.69zM227.04 52H228.66V55H227.04zM230.28 52H231.9V55H230.28z"/>
<path fill="#5c607c" d="M103.89 47H105.51V50H103.89zM121.71 47H123.33V50H121.71zM129.81 47H133.06V50H129.81zM144.4 47H146.02V50H144.4zM160.6 47H162.22V50H160.6zM100.65 50H102.27V52H100.65zM115.23 50H116.85V52H115.23zM128.19 50H129.81V52H128.19zM136.3 50H137.92V52H136.3zM142.78 50H144.4V52H142.78zM157.36 50H158.98V52H157.36zM168.7 50H170.32V52H168.7zM180.05 50H181.67V52H180.05zM214.07 52H215.69V55H214.07z"/>
<path fill="#50506c" d="M105.51 47H107.13V50H105.51zM131.44 50H133.06V52H131.44zM137.92 50H139.54V52H137.92zM188.15 50H189.77V52H188.15z"/>
<path fill="#5c647c" d="M107.13 47H108.75V50H107.13zM147.64 47H149.26V50H147.64zM113.61 50H115.23V52H113.61zM154.12 50H155.74V52H154.12zM238.38 52H240V55H238.38z"/>
<path fill="#585878" d="M108.75 47H110.37V50H108.75zM155.74 47H157.36V50H155.74zM189.77 47H191.39V50H189.77zM116.85 50H118.47V52H116.85zM134.68 50H136.3V52H134.68zM139.54 50H141.16V52H139.54zM178.43 50H180.05V52H178.43z"/>
<path fill="#484868" d="M110.37 47H111.99V50H110.37zM235.14 47H236.76V50H235.14zM162.22 50H163.84V52H162.22zM181.67 50H183.29V52H181.67z"/>
<path fill="#444460" d="M111.99 47H115.23V50H111.99zM175.19 47H176.81V50H175.19zM183.29 47H184.91V50H183.29zM186.53 47H188.15V50H186.53zM193.01 47H194.63V50H193.01zM202.73 47H204.35V50H202.73zM212.45 47H214.07V50H212.45zM222.18 47H223.8V50H222.18zM236.76 47H240V50H236.76zM123.33 50H124.95V52H123.33zM186.53 50H188.15V52H186.53zM194.63 50H196.25V52H194.63zM202.73 50H204.35V52H202.73zM217.31 50H220.56V52H217.31zM228.66 50H230.28V52H228.66z"/>
<path fill="#606480" d="M115.23 47H116.85V50H115.23zM173.56 50H175.19V52H173.56z"/>
<path fill="#585c78" d="M123.33 47H124.95V50H123.33zM146.02 47H147.64V50H146.02zM89.31 50H90.93V52H89.31zM121.71 50H123.33V52H121.71zM129.81 50H131.44V52H129.81zM147.64 50H149.26V52H147.64zM163.84 50H165.46V52H163.84z"/>
<path fill="#6c748c" d="M126.57 47H128.19V50H126.57zM162.22 47H163.84V50H162.22zM73.1 50H74.72V52H73.1zM76.34 50H77.96V52H76.34zM94.17 50H95.79V52H94.17zM134.68 52H136.3V55H134.68zM146.02 52H147.64V55H146.02zM173.56 52H175.19V55H173.56zM201.11 52H202.73V55H201.11zM225.42 52H227.04V55H225.42z"/>
<path fill="#484864" d="M133.06 47H134.68V50H133.06zM158.98 47H160.6V50H158.98zM170.32 47H171.94V50H170.32zM199.49 47H201.11V50H199.49zM204.35 47H205.97V50H204.35zM227.04 47H228.66V50H227.04zM110.37 50H111.99V52H110.37zM197.87 50H201.11V52H197.87zM222.18 50H223.8V52H222.18zM230.28 50H231.9V52H230.28zM235.14 50H236.76V52H235.14z"/>
<path fill="#606880" d="M134.68 47H136.3V50H134.68zM137.92 47H139.54V50H137.92zM141.16 47H142.78V50H141.16zM193.01 52H194.63V55H193.01z"/>
<path fill="#545874" d="M139.54 47H141.16V50H139.54zM149.26 47H150.88V50H149.26zM197.87 47H199.49V50H197.87zM155.74 50H157.36V52H155.74zM204.35 50H205.97V52H204.35zM223.8 50H225.42V52H223.8z"/>
<path fill="#4c4c68" d="M150.88 47H152.5V50H150.88zM180.05 47H181.67V50H180.05zM220.56 47H222.18V50H220.56zM86.06 50H87.69V52H86.06zM167.08 50H168.7V52H167.08zM170.32 50H171.94V52H170.32zM191.39 50H193.01V52H191.39zM210.83 50H214.07V52H210.83zM231.9 50H235.14V52H231.9z"/>
<path fill="#4c4c6c" d="M152.5 47H154.12V50H152.5zM152.5 50H154.12V52H152.5zM171.94 50H173.56V52H171.94zM201.11 50H202.73V52H201.11z"/>
<path fill="#505070" d="M157.36 47H158.98V50H157.36zM163.84 47H165.46V50H163.84zM181.67 47H183.29V50H181.67zM194.63 47H196.25V50H194.63zM201.11 47H202.73V50H201.11zM210.83 47H212.45V50H210.83zM217.31 47H218.94V50H217.31zM228.66 47H230.28V50H228.66zM81.2 50H82.82V52H81.2zM141.16 50H142.78V52H141.16zM149.26 50H150.88V52H149.26zM158.98 50H160.6V52H158.98zM183.29 50H186.53V52H183.29zM189.77 50H191.39V52H189.77zM196.25 50H197.87V52H196.25z"/>
<path fill="#3c3c54" d="M165.46 47H167.08V50H165.46zM207.59 47H209.21V50H207.59zM215.69 47H217.31V50H215.69zM193.01 50H194.63V52H193.01zM214.07 50H215.69V52H214.07z"/>
<path fill="#343448" d="M188.15 47H189.77V50H188.15z"/>
<path fill="#3c3c50" d="M205.97 47H207.59V50H205.97zM233.52 47H235.14V50H233.52zM225.42 50H227.04V52H225.42z"/>
<path fill="#38384c" d="M209.21 47H210.83V50H209.21zM225.42 47H227.04V50H225.42zM231.9 47H233.52V50H231.9z"/>
<path fill="#404058" d="M214.07 47H215.69V50H214.07zM230.28 47H231.9V50H230.28zM133.06 50H134.68V52H133.06zM209.21 50H210.83V52H209.21z"/>
<path fill="#34344c" d="M218.94 47H220.56V50H218.94z"/>
<path fill="#40405c" d="M223.8 47H225.42V50H223.8zM220.56 50H222.18V52H220.56zM227.04 50H228.66V52H227.04z"/>
<path fill="#8090a0" d="M66.62 50H68.24V52H66.62zM87.69 52H89.31V55H87.69z"/>
<path fill="#687488" d="M74.72 50H76.34V52H74.72zM113.61 52H115.23V55H113.61zM149.26 52H150.88V55H149.26zM178.43 52H180.05V55H178.43z"/>
<path fill="#889ca8" d="M95.79 50H97.41V52H95.79zM69.86 52H71.48V55H69.86zM92.55 52H94.17V55H92.55zM100.65 55H102.27V58H100.65z"/>
<path fill="#788498" d="M102.27 50H103.89V52H102.27zM89.31 52H90.93V55H89.31zM126.57 52H128.19V55H126.57zM160.6 52H162.22V55H160.6zM165.46 52H167.08V55H165.46zM168.7 52H170.32V55H168.7z"/>
<path fill="#707890" d="M118.47 50H120.09V52H118.47zM100.65 52H102.27V55H100.65zM163.84 52H165.46V55H163.84zM180.05 52H183.29V55H180.05zM209.21 52H210.83V55H209.21z"/>
<path fill="#5c5c78" d="M144.4 50H146.02V52H144.4zM160.6 50H162.22V52H160.6z"/>
<path fill="#383850" d="M175.19 50H176.81V52H175.19zM207.59 50H209.21V52H207.59zM215.69 50H217.31V52H215.69z"/>
<path fill="#282838" d="M205.97 50H207.59V52H205.97zM238.38 50H240V52H238.38z"/>
<path fill="#303040" d="M236.76 50H238.38V52H236.76z"/>
<path fill="#94acb4" d="M65 52H69.86V55H65zM113.61 58H115.23V61H113.61z"/>
<path fill="#8498a4" d="M71.48 52H73.1V55H71.48zM111.99 55H113.61V58H111.99z"/>
<path fill="#9cbcbc" d="M79.58 52H81.2V55H79.58z"/>
<path fill="#88a0a8" d="M116.85 52H118.47V55H116.85zM97.41 55H99.03V58H97.41z"/>
<path fill="#788494" d="M139.54 52H141.16V55H139.54z"/>
<path fill="#748494" d="M144.4 52H146.02V55H144.4zM150.88 52H152.5V55H150.88zM170.32 52H171.94V55H170.32z"/>
<path fill="#646884" d="M210.83 52H212.45V55H210.83zM222.18 52H223.8V55H222.18z"/>
<path fill="#98b0b8" d="M82.82 55H84.44V58H82.82zM121.71 55H123.33V58H121.71zM209.21 55H210.83V58H209.21z"/>
<path fill="#98b4b8" d="M99.03 55H100.65V58H99.03zM113.61 55H115.23V58H113.61zM128.19 55H129.81V58H128.19zM147.64 55H149.26V58H147.64zM199.49 55H201.11V58H199.49zM228.66 55H230.28V58H228.66zM231.9 55H233.52V58H231.9z"/>
<path fill="#000000" d="M65.1 32H66.6V35H65.1zM65.1 35H66.6V38H65.1zM67.2 44H68.7V47H67.2zM67.2 47H68.7V50H67.2zM69 47H70.8V50H69zM72.3 47H74.1V50H72.3zM69 55H70.8V58H69zM69 58H70.8V61H69zM65.1 61H66.6V64H65.1z"/>
<path fill="#404058" d="M70.8 32H71.7V35H70.8zM85.2 32H86.7V35H85.2zM67.2 41H68.7V44H67.2zM92.4 44H93.9V47H92.4z"/>
<path fill="#94b0b4" d="M78.3 32H79.8V35H78.3zM81.3 32H82.8V35H81.3z"/>
<path fill="#d4e4e4" d="M92.4 32H93.6V35H92.4zM106.8 41H114V44H106.8zM83.1 61H84.6V64H83.1zM85.2 70H86.7V72H85.2z"/>
<path fill="#ccdcdc" d="M97.5 32H100.8V35H97.5zM94.8 64H96.6V67H94.8z"/>
<path fill="#7c889c" d="M69.3 35H71.7V38H69.3z"/>
<path fill="#9cb8bc" d="M82.8 35H84.6V38H82.8zM70.8 47H72.3V50H70.8zM87.3 55H91.2V58H87.3zM81.3 61H82.8V64H81.3zM70.8 64H71.7V67H70.8zM78 70H80.7V72H78zM71.1 72H71.7V75H71.1zM88.2 72H89.7V75H88.2z"/>
<path fill="#a8c8c8" d="M67.2 38H68.7V41H67.2zM83.4 38H84.6V41H83.4zM97.2 44H98.4V47H97.2zM76.2 58H77.4V61H76.2zM92.4 70H93.6V72H92.4z"/>
<path fill="#545874" d="M76.2 38H77.7V41H76.2z"/>
<path fill="#b8d4d4" d="M92.4 38H93.6V41H92.4z"/>
<path fill="#6c748c" d="M78.6 41H80.7V44H78.6z"/>
<path fill="#4c4c68" d="M85.2 41H86.7V44H85.2zM91.8 50H97.2V52H91.8z"/>
<path fill="#a4c0c4" d="M92.4 41H93.6V44H92.4zM101.4 41H102.6V44H101.4zM101.4 44H103.2V47H101.4zM112.8 44H114.6V47H112.8zM78 47H79.8V50H78zM67.2 55H68.7V58H67.2zM72.3 58H73.5V61H72.3zM94.8 58H96.6V61H94.8zM88.2 70H89.7V72H88.2zM92.4 72H93.6V75H92.4zM95.4 72H96.9V75H95.4z"/>
<path fill="#e4ecec" d="M69 44H72.9V47H69zM94.8 70H103.2V72H94.8z"/>
<path fill="#44445c" d="M78.3 44H80.1V47H78.3zM74.1 47H77.7V50H74.1zM67.2 50H73.8V52H67.2zM65.1 55H66.9V58H65.1zM72.3 55H75.6V58H72.3zM74.1 58H75.9V61H74.1z"/>
<path fill="#707c90" d="M85.2 44H86.7V47H85.2zM81.3 58H84.6V61H81.3z"/>
<path fill="#b4d0cc" d="M105.6 44H108V47H105.6z"/>
<path fill="#ffffff" d="M65.1 47H67.2V50H65.1zM80.1 47H87V50H80.1zM65.1 52H67.2V55H65.1zM77.7 55H81V58H77.7zM84.9 55H87V58H84.9zM70.8 58H72.3V61H70.8zM77.7 58H81V61H77.7zM84.9 58H87V61H84.9zM66.6 61H81V64H66.6zM66.6 64H70.8V67H66.6zM71.7 64H87V67H71.7zM66.9 67H87V70H66.9zM65.1 70H76.2V72H65.1zM65.1 72H70.8V75H65.1zM71.7 72H77.7V75H71.7z"/>
<path fill="#0c0c10" d="M87.3 47H91.8V50H87.3zM73.8 50H76.8V52H73.8zM90 50H91.8V52H90zM65.1 64H66.6V67H65.1z"/>
<path fill="#646c84" d="M65.1 50H67.2V52H65.1z"/>
<path fill="#484864" d="M76.8 50H90V52H76.8z"/>
<path fill="#141420" d="M97.2 50H99V52H97.2z"/>
<path fill="#8090a0" d="M67.2 52H87V55H67.2zM65.1 67H66.9V70H65.1z"/>
<path fill="#dce8e8" d="M70.8 55H72.3V58H70.8zM75.9 55H77.4V58H75.9zM87 58H91.2V61H87zM97.2 72H102V75H97.2zM109.2 72H112.8V75H109.2z"/>
<path fill="#585c78" d="M81.3 55H84.6V58H81.3z"/>
<path fill="#f4f8f8" d="M65.1 58H68.7V61H65.1z"/>
<path fill="#8ca0ac" d="M78 72H80.7V75H78z"/>
<path fill="#f8fcfc" d="M592.69 30H594.31V32H592.69zM602.42 30H604.04V32H602.42zM613.77 30H615.4V32H613.77zM617.02 30H618.64V32H617.02zM621.88 30H623.51V32H621.88zM625.13 30H626.75V32H625.13zM644.59 30H647.83V32H644.59zM649.46 30H651.08V32H649.46zM667.3 30H668.92V32H667.3zM672.16 30H673.78V32H672.16zM683.52 30H685.14V32H683.52zM709.47 30H711.09V32H709.47zM719.2 30H720.82V32H719.2zM871.66 30H873.28V32H871.66zM874.9 30H876.52V32H874.9zM547.28 32H548.9V35H547.28zM557.01 32H558.63V35H557.01zM560.25 32H561.87V35H560.25zM576.47 32H578.09V35H576.47zM579.71 32H581.34V35H579.71zM586.2 32H587.82V35H586.2zM591.07 32H592.69V35H591.07zM595.93 32H597.55V35H595.93zM600.8 32H602.42V35H600.8zM634.86 32H636.48V35H634.86zM641.35 32H642.97V35H641.35zM651.08 32H652.7V35H651.08zM659.19 32H660.81V35H659.19zM664.05 32H665.68V35H664.05zM667.3 32H668.92V35H667.3zM673.78 32H675.41V35H673.78zM690 32H691.63V35H690zM694.87 32H701.36V35H694.87zM714.33 32H715.95V35H714.33zM737.04 32H738.66V35H737.04zM764.61 32H766.23V35H764.61zM769.48 32H771.1V35H769.48zM772.72 32H774.34V35H772.72zM790.56 32H792.18V35H790.56zM803.54 32H805.16V35H803.54zM819.76 32H821.38V35H819.76zM831.11 32H834.35V35H831.11zM839.22 32H840.84V35H839.22zM847.33 32H850.57V35H847.33zM865.17 32H866.79V35H865.17zM881.39 32H883.01V35H881.39zM535.92 35H539.17V38H535.92zM555.38 35H557.01V38H555.38zM597.55 35H599.18V38H597.55zM604.04 35H605.66V38H604.04zM685.14 35H690V38H685.14zM694.87 35H696.49V38H694.87zM704.6 35H706.22V38H704.6zM714.33 35H715.95V38H714.33zM720.82 35H722.44V38H720.82zM727.31 35H728.93V38H727.31zM730.55 35H733.8V38H730.55zM766.23 35H769.48V38H766.23zM788.94 35H790.56V38H788.94zM800.29 35H801.92V38H800.29zM803.54 35H805.16V38H803.54zM808.4 35H810.03V38H808.4zM857.06 35H860.31V38H857.06zM537.54 61H539.17V64H537.54zM542.41 61H545.65V64H542.41zM547.28 61H548.9V64H547.28zM563.49 61H565.12V64H563.49zM569.98 61H571.6V64H569.98zM602.42 61H604.04V64H602.42zM612.15 61H613.77V64H612.15zM633.24 61H634.86V64H633.24zM644.59 61H647.83V64H644.59zM665.68 61H667.3V64H665.68zM680.27 61H681.89V64H680.27zM686.76 61H688.38V64H686.76zM690 61H691.63V64H690zM701.36 61H704.6V64H701.36zM709.47 61H711.09V64H709.47zM720.82 61H722.44V64H720.82zM740.28 61H741.91V64H740.28zM748.39 61H750.02V64H748.39zM751.64 61H753.26V64H751.64zM758.12 61H759.75V64H758.12zM762.99 61H764.61V64H762.99zM790.56 61H792.18V64H790.56zM803.54 61H805.16V64H803.54zM813.27 61H814.89V64H813.27zM816.51 61H818.14V64H816.51zM819.76 61H821.38V64H819.76zM827.87 61H829.49V64H827.87zM834.35 61H835.98V64H834.35zM845.71 61H847.33V64H845.71zM863.55 61H865.17V64H863.55zM547.28 64H548.9V67H547.28zM557.01 64H558.63V67H557.01zM571.6 64H573.23V67H571.6zM582.96 64H584.58V67H582.96zM586.2 64H587.82V67H586.2zM592.69 64H594.31V67H592.69zM605.66 64H607.29V67H605.66zM608.91 64H610.53V67H608.91zM620.26 64H621.88V67H620.26zM625.13 64H626.75V67H625.13zM633.24 64H634.86V67H633.24zM649.46 64H651.08V67H649.46zM655.94 64H657.57V67H655.94zM662.43 64H665.68V67H662.43zM675.41 64H677.03V67H675.41zM690 64H691.63V67H690zM699.74 64H701.36V67H699.74zM709.47 64H714.33V67H709.47zM717.58 64H719.2V67H717.58zM738.66 64H740.28V67H738.66zM746.77 64H748.39V67H746.77zM753.26 64H754.88V67H753.26zM788.94 64H790.56V67H788.94zM805.16 64H806.78V67H805.16zM816.51 64H818.14V67H816.51zM823 64H824.62V67H823zM827.87 64H829.49V67H827.87zM835.98 64H837.6V67H835.98zM839.22 64H840.84V67H839.22zM848.95 64H850.57V67H848.95zM871.66 64H873.28V67H871.66zM884.63 64H886.26V67H884.63z"/>
<path fill="#f0f4f4" d="M594.31 30H595.93V32H594.31zM626.75 30H628.37V32H626.75zM636.48 30H638.1V32H636.48zM641.35 30H642.97V32H641.35zM660.81 30H662.43V32H660.81zM701.36 30H702.98V32H701.36zM704.6 30H706.22V32H704.6zM720.82 30H722.44V32H720.82zM727.31 30H728.93V32H727.31zM881.39 30H883.01V32H881.39zM545.65 32H547.28V35H545.65zM553.76 32H555.38V35H553.76zM605.66 32H608.91V35H605.66zM610.53 32H612.15V35H610.53zM633.24 32H634.86V35H633.24zM642.97 32H644.59V35H642.97zM657.57 32H659.19V35H657.57zM685.14 32H686.76V35H685.14zM704.6 32H706.22V35H704.6zM717.58 32H719.2V35H717.58zM779.21 32H780.83V35H779.21zM810.03 32H811.65V35H810.03zM842.46 32H844.09V35H842.46zM884.63 32H886.26V35H884.63zM548.9 35H550.52V38H548.9zM552.14 35H555.38V38H552.14zM557.01 35H558.63V38H557.01zM569.98 35H571.6V38H569.98zM576.47 35H579.71V38H576.47zM586.2 35H587.82V38H586.2zM589.45 35H591.07V38H589.45zM595.93 35H597.55V38H595.93zM607.29 35H612.15V38H607.29zM613.77 35H615.4V38H613.77zM620.26 35H621.88V38H620.26zM626.75 35H628.37V38H626.75zM644.59 35H646.21V38H644.59zM655.94 35H657.57V38H655.94zM662.43 35H664.05V38H662.43zM673.78 35H675.41V38H673.78zM681.89 35H683.52V38H681.89zM693.25 35H694.87V38H693.25zM733.8 35H735.42V38H733.8zM738.66 35H741.91V38H738.66zM758.12 35H759.75V38H758.12zM764.61 35H766.23V38H764.61zM771.1 35H774.34V38H771.1zM784.08 35H785.7V38H784.08zM790.56 35H792.18V38H790.56zM814.89 35H816.51V38H814.89zM824.62 35H826.25V38H824.62zM831.11 35H832.73V38H831.11zM876.52 35H878.15V38H876.52zM884.63 35H886.26V38H884.63zM870.04 38H871.66V41H870.04zM874.9 38H878.15V41H874.9zM668.92 61H670.54V64H668.92zM678.65 61H680.27V64H678.65zM714.33 61H715.95V64H714.33zM725.69 61H727.31V64H725.69zM733.8 61H735.42V64H733.8zM829.49 61H831.11V64H829.49zM835.98 61H837.6V64H835.98zM865.17 61H866.79V64H865.17zM578.09 64H579.71V67H578.09zM758.12 64H759.75V67H758.12zM787.32 64H788.94V67H787.32zM878.15 64H879.77V67H878.15zM886.26 64H887.88V67H886.26zM886.26 70H887.88V72H886.26z"/>
<path fill="#f0f8f8" d="M595.93 30H597.55V32H595.93zM634.86 30H636.48V32H634.86zM639.72 30H641.35V32H639.72zM651.08 30H652.7V32H651.08zM706.22 30H707.85V32H706.22zM715.95 30H717.58V32H715.95zM724.06 30H725.69V32H724.06zM552.14 32H553.76V35H552.14zM629.99 32H631.62V35H629.99zM644.59 32H646.21V35H644.59zM647.83 32H649.46V35H647.83zM660.81 32H662.43V35H660.81zM746.77 32H748.39V35H746.77zM751.64 32H753.26V35H751.64zM861.93 32H863.55V35H861.93zM868.42 32H870.04V35H868.42zM871.66 32H873.28V35H871.66zM568.36 35H569.98V38H568.36zM605.66 35H607.29V38H605.66zM638.1 35H641.35V38H638.1zM646.21 35H647.83V38H646.21zM667.3 35H668.92V38H667.3zM696.49 35H698.11V38H696.49zM702.98 35H704.6V38H702.98zM711.09 35H712.71V38H711.09zM719.2 35H720.82V38H719.2zM745.15 35H748.39V38H745.15zM759.75 35H761.37V38H759.75zM769.48 35H771.1V38H769.48zM823 35H824.62V38H823zM834.35 35H835.98V38H834.35zM845.71 35H847.33V38H845.71zM863.55 35H865.17V38H863.55zM634.86 61H636.48V64H634.86zM707.85 61H709.47V64H707.85zM722.44 61H724.06V64H722.44zM771.1 61H772.72V64H771.1zM883.01 61H884.63V64H883.01zM681.89 64H683.52V67H681.89zM701.36 64H702.98V67H701.36zM724.06 64H725.69V67H724.06zM764.61 64H766.23V67H764.61zM797.05 64H798.67V67H797.05zM834.35 64H835.98V67H834.35z"/>
<path fill="#ecf4f4" d="M597.55 30H600.8V32H597.55zM612.15 30H613.77V32H612.15zM631.62 30H633.24V32H631.62zM642.97 30H644.59V32H642.97zM711.09 30H712.71V32H711.09zM725.69 30H727.31V32H725.69zM544.03 32H545.65V35H544.03zM548.9 32H550.52V35H548.9zM565.12 32H566.74V35H565.12zM568.36 32H569.98V35H568.36zM612.15 32H613.77V35H612.15zM639.72 32H641.35V35H639.72zM665.68 32H667.3V35H665.68zM702.98 32H704.6V35H702.98zM709.47 32H711.09V35H709.47zM720.82 32H724.06V35H720.82zM733.8 32H735.42V35H733.8zM745.15 32H746.77V35H745.15zM805.16 32H806.78V35H805.16zM811.65 32H813.27V35H811.65zM837.6 32H839.22V35H837.6zM545.65 35H547.28V38H545.65zM592.69 35H594.31V38H592.69zM612.15 35H613.77V38H612.15zM631.62 35H633.24V38H631.62zM636.48 35H638.1V38H636.48zM659.19 35H660.81V38H659.19zM670.54 35H672.16V38H670.54zM675.41 35H677.03V38H675.41zM683.52 35H685.14V38H683.52zM701.36 35H702.98V38H701.36zM707.85 35H711.09V38H707.85zM715.95 35H717.58V38H715.95zM724.06 35H725.69V38H724.06zM735.42 35H737.04V38H735.42zM750.02 35H751.64V38H750.02zM756.5 35H758.12V38H756.5zM774.34 35H775.97V38H774.34zM777.59 35H779.21V38H777.59zM785.7 35H788.94V38H785.7zM797.05 35H798.67V38H797.05zM805.16 35H806.78V38H805.16zM811.65 35H813.27V38H811.65zM819.76 35H821.38V38H819.76zM837.6 35H839.22V38H837.6zM844.09 35H845.71V38H844.09zM848.95 35H850.57V38H848.95zM860.31 38H861.93V41H860.31zM623.51 61H625.13V64H623.51zM651.08 61H652.7V64H651.08zM715.95 61H717.58V64H715.95zM756.5 61H758.12V64H756.5zM761.37 61H762.99V64H761.37zM821.38 61H823V64H821.38zM884.63 61H886.26V64H884.63zM626.75 64H628.37V67H626.75zM785.7 64H787.32V67H785.7zM792.18 64H793.81V67H792.18zM829.49 64H831.11V67H829.49zM792.18 67H793.81V70H792.18zM855.44 67H857.06V70H855.44zM860.31 67H861.93V70H860.31zM874.9 67H876.52V70H874.9zM879.77 67H881.39V70H879.77zM887.88 67H889.5V70H887.88zM879.77 70H881.39V72H879.77zM886.26 72H887.88V75H886.26z"/>
<path fill="#fcfcfc" d="M600.8 30H602.42V32H600.8zM623.51 30H625.13V32H623.51zM628.37 30H631.62V32H628.37zM665.68 30H667.3V32H665.68zM670.54 30H672.16V32H670.54zM690 30H691.63V32H690zM886.26 30H887.88V32H886.26zM542.41 32H544.03V35H542.41zM550.52 32H552.14V35H550.52zM555.38 32H557.01V35H555.38zM558.63 32H560.25V35H558.63zM563.49 32H565.12V35H563.49zM573.23 32H574.85V35H573.23zM592.69 32H594.31V35H592.69zM613.77 32H615.4V35H613.77zM626.75 32H628.37V35H626.75zM631.62 32H633.24V35H631.62zM693.25 32H694.87V35H693.25zM715.95 32H717.58V35H715.95zM719.2 32H720.82V35H719.2zM727.31 32H728.93V35H727.31zM753.26 32H754.88V35H753.26zM777.59 32H779.21V35H777.59zM806.78 32H808.4V35H806.78zM813.27 32H814.89V35H813.27zM852.2 32H855.44V35H852.2zM866.79 32H868.42V35H866.79zM883.01 32H884.63V35H883.01zM887.88 32H889.5V35H887.88zM587.82 35H589.45V38H587.82zM633.24 35H636.48V38H633.24zM698.11 35H699.74V38H698.11zM782.45 35H784.08V38H782.45zM813.27 35H814.89V38H813.27zM870.04 35H871.66V38H870.04zM881.39 35H883.01V38H881.39zM887.88 35H889.5V38H887.88zM534.3 61H535.92V64H534.3zM550.52 61H553.76V64H550.52zM565.12 61H566.74V64H565.12zM574.85 61H576.47V64H574.85zM587.82 61H589.45V64H587.82zM595.93 61H600.8V64H595.93zM604.04 61H605.66V64H604.04zM620.26 61H621.88V64H620.26zM628.37 61H629.99V64H628.37zM636.48 61H638.1V64H636.48zM639.72 61H641.35V64H639.72zM654.32 61H655.94V64H654.32zM660.81 61H662.43V64H660.81zM683.52 61H685.14V64H683.52zM698.11 61H699.74V64H698.11zM712.71 61H714.33V64H712.71zM719.2 61H720.82V64H719.2zM741.91 61H743.53V64H741.91zM753.26 61H754.88V64H753.26zM766.23 61H767.86V64H766.23zM774.34 61H777.59V64H774.34zM780.83 61H782.45V64H780.83zM787.32 61H788.94V64H787.32zM792.18 61H793.81V64H792.18zM795.43 61H797.05V64H795.43zM798.67 61H800.29V64H798.67zM801.92 61H803.54V64H801.92zM826.25 61H827.87V64H826.25zM844.09 61H845.71V64H844.09zM847.33 61H850.57V64H847.33zM853.82 61H855.44V64H853.82zM868.42 61H870.04V64H868.42zM871.66 61H873.28V64H871.66zM534.3 64H535.92V67H534.3zM548.9 64H550.52V67H548.9zM553.76 64H555.38V67H553.76zM565.12 64H568.36V67H565.12zM576.47 64H578.09V67H576.47zM612.15 64H613.77V67H612.15zM621.88 64H623.51V67H621.88zM634.86 64H636.48V67H634.86zM639.72 64H641.35V67H639.72zM642.97 64H644.59V67H642.97zM651.08 64H655.94V67H651.08zM659.19 64H660.81V67H659.19zM668.92 64H670.54V67H668.92zM694.87 64H698.11V67H694.87zM704.6 64H706.22V67H704.6zM707.85 64H709.47V67H707.85zM732.17 64H733.8V67H732.17zM748.39 64H750.02V67H748.39zM767.86 64H769.48V67H767.86zM774.34 64H775.97V67H774.34zM782.45 64H784.08V67H782.45zM801.92 64H803.54V67H801.92zM806.78 64H808.4V67H806.78zM810.03 64H811.65V67H810.03zM818.14 64H819.76V67H818.14zM844.09 64H845.71V67H844.09zM853.82 64H855.44V67H853.82zM870.04 64H871.66V67H870.04zM873.28 64H874.9V67H873.28zM886.26 67H887.88V70H886.26z"/>
<path fill="#f4f8f8" d="M604.04 30H608.91V32H604.04zM610.53 30H612.15V32H610.53zM618.64 30H621.88V32H618.64zM633.24 30H634.86V32H633.24zM638.1 30H639.72V32H638.1zM652.7 30H654.32V32H652.7zM657.57 30H660.81V32H657.57zM662.43 30H664.05V32H662.43zM668.92 30H670.54V32H668.92zM673.78 30H677.03V32H673.78zM696.49 30H701.36V32H696.49zM702.98 30H704.6V32H702.98zM707.85 30H709.47V32H707.85zM712.71 30H714.33V32H712.71zM728.93 30H730.55V32H728.93zM884.63 30H886.26V32H884.63zM561.87 32H563.49V35H561.87zM569.98 32H571.6V35H569.98zM574.85 32H576.47V35H574.85zM578.09 32H579.71V35H578.09zM582.96 32H586.2V35H582.96zM594.31 32H595.93V35H594.31zM597.55 32H600.8V35H597.55zM602.42 32H605.66V35H602.42zM617.02 32H620.26V35H617.02zM621.88 32H626.75V35H621.88zM636.48 32H639.72V35H636.48zM652.7 32H654.32V35H652.7zM662.43 32H664.05V35H662.43zM675.41 32H677.03V35H675.41zM688.38 32H690V35H688.38zM706.22 32H707.85V35H706.22zM724.06 32H725.69V35H724.06zM728.93 32H730.55V35H728.93zM735.42 32H737.04V35H735.42zM738.66 32H740.28V35H738.66zM743.53 32H745.15V35H743.53zM748.39 32H750.02V35H748.39zM754.88 32H756.5V35H754.88zM758.12 32H761.37V35H758.12zM762.99 32H764.61V35H762.99zM766.23 32H769.48V35H766.23zM771.1 32H772.72V35H771.1zM774.34 32H775.97V35H774.34zM780.83 32H788.94V35H780.83zM792.18 32H793.81V35H792.18zM798.67 32H800.29V35H798.67zM801.92 32H803.54V35H801.92zM808.4 32H810.03V35H808.4zM814.89 32H819.76V35H814.89zM823 32H824.62V35H823zM826.25 32H831.11V35H826.25zM834.35 32H835.98V35H834.35zM844.09 32H847.33V35H844.09zM876.52 32H878.15V35H876.52zM539.17 35H542.41V38H539.17zM547.28 35H548.9V38H547.28zM558.63 35H565.12V38H558.63zM574.85 35H576.47V38H574.85zM581.34 35H586.2V38H581.34zM591.07 35H592.69V38H591.07zM621.88 35H623.51V38H621.88zM628.37 35H629.99V38H628.37zM647.83 35H649.46V38H647.83zM654.32 35H655.94V38H654.32zM657.57 35H659.19V38H657.57zM664.05 35H665.68V38H664.05zM668.92 35H670.54V38H668.92zM672.16 35H673.78V38H672.16zM691.63 35H693.25V38H691.63zM699.74 35H701.36V38H699.74zM717.58 35H719.2V38H717.58zM728.93 35H730.55V38H728.93zM737.04 35H738.66V38H737.04zM743.53 35H745.15V38H743.53zM748.39 35H750.02V38H748.39zM753.26 35H754.88V38H753.26zM761.37 35H764.61V38H761.37zM775.97 35H777.59V38H775.97zM780.83 35H782.45V38H780.83zM792.18 35H797.05V38H792.18zM801.92 35H803.54V38H801.92zM806.78 35H808.4V38H806.78zM810.03 35H811.65V38H810.03zM816.51 35H819.76V38H816.51zM832.73 35H834.35V38H832.73zM835.98 35H837.6V38H835.98zM839.22 35H842.46V38H839.22zM855.44 35H857.06V38H855.44zM871.66 35H873.28V38H871.66zM879.77 38H881.39V41H879.77zM566.74 61H568.36V64H566.74zM573.23 61H574.85V64H573.23zM605.66 61H607.29V64H605.66zM610.53 61H612.15V64H610.53zM662.43 61H664.05V64H662.43zM672.16 61H678.65V64H672.16zM706.22 61H707.85V64H706.22zM711.09 61H712.71V64H711.09zM732.17 61H733.8V64H732.17zM735.42 61H737.04V64H735.42zM743.53 61H748.39V64H743.53zM779.21 61H780.83V64H779.21zM784.08 61H785.7V64H784.08zM797.05 61H798.67V64H797.05zM805.16 61H806.78V64H805.16zM808.4 61H813.27V64H808.4zM814.89 61H816.51V64H814.89zM818.14 61H819.76V64H818.14zM837.6 61H840.84V64H837.6zM855.44 61H857.06V64H855.44zM858.68 61H860.31V64H858.68zM873.28 61H874.9V64H873.28zM876.52 61H878.15V64H876.52zM544.03 64H545.65V67H544.03zM604.04 64H605.66V67H604.04zM607.29 64H608.91V67H607.29zM610.53 64H612.15V67H610.53zM613.77 64H615.4V67H613.77zM617.02 64H620.26V67H617.02zM623.51 64H625.13V67H623.51zM636.48 64H639.72V67H636.48zM644.59 64H647.83V67H644.59zM673.78 64H675.41V67H673.78zM678.65 64H680.27V67H678.65zM683.52 64H685.14V67H683.52zM698.11 64H699.74V67H698.11zM715.95 64H717.58V67H715.95zM727.31 64H728.93V67H727.31zM733.8 64H737.04V67H733.8zM743.53 64H745.15V67H743.53zM759.75 64H761.37V67H759.75zM769.48 64H774.34V67H769.48zM779.21 64H782.45V67H779.21zM784.08 64H785.7V67H784.08zM790.56 64H792.18V67H790.56zM793.81 64H797.05V67H793.81zM808.4 64H810.03V67H808.4zM811.65 64H813.27V67H811.65zM819.76 64H823V67H819.76zM826.25 64H827.87V67H826.25zM831.11 64H832.73V67H831.11zM837.6 64H839.22V67H837.6zM840.84 64H842.46V67H840.84zM845.71 64H847.33V67H845.71zM874.9 64H876.52V67H874.9zM883.01 64H884.63V67H883.01zM871.66 67H873.28V70H871.66z"/>
<path fill="#f8f8f8" d="M608.91 30H610.53V32H608.91zM654.32 30H655.94V32H654.32zM664.05 30H665.68V32H664.05zM686.76 30H688.38V32H686.76zM694.87 30H696.49V32H694.87zM539.17 32H542.41V35H539.17zM571.6 32H573.23V35H571.6zM589.45 32H591.07V35H589.45zM608.91 32H610.53V35H608.91zM681.89 32H685.14V35H681.89zM686.76 32H688.38V35H686.76zM707.85 32H709.47V35H707.85zM711.09 32H712.71V35H711.09zM741.91 32H743.53V35H741.91zM750.02 32H751.64V35H750.02zM756.5 32H758.12V35H756.5zM761.37 32H762.99V35H761.37zM775.97 32H777.59V35H775.97zM788.94 32H790.56V35H788.94zM793.81 32H795.43V35H793.81zM855.44 32H857.06V35H855.44zM542.41 35H544.03V38H542.41zM599.18 35H600.8V38H599.18zM629.99 35H631.62V38H629.99zM641.35 35H642.97V38H641.35zM649.46 35H651.08V38H649.46zM652.7 35H654.32V38H652.7zM706.22 35H707.85V38H706.22zM754.88 35H756.5V38H754.88zM548.9 61H550.52V64H548.9zM613.77 61H615.4V64H613.77zM625.13 61H628.37V64H625.13zM631.62 61H633.24V64H631.62zM642.97 61H644.59V64H642.97zM659.19 61H660.81V64H659.19zM664.05 61H665.68V64H664.05zM693.25 61H694.87V64H693.25zM699.74 61H701.36V64H699.74zM704.6 61H706.22V64H704.6zM724.06 61H725.69V64H724.06zM750.02 61H751.64V64H750.02zM754.88 61H756.5V64H754.88zM759.75 61H761.37V64H759.75zM764.61 61H766.23V64H764.61zM767.86 61H769.48V64H767.86zM777.59 61H779.21V64H777.59zM785.7 61H787.32V64H785.7zM831.11 61H832.73V64H831.11zM861.93 61H863.55V64H861.93zM552.14 64H553.76V67H552.14zM599.18 64H600.8V67H599.18zM602.42 64H604.04V67H602.42zM660.81 64H662.43V67H660.81zM680.27 64H681.89V67H680.27zM722.44 64H724.06V67H722.44zM751.64 64H753.26V67H751.64zM756.5 64H758.12V67H756.5zM855.44 64H857.06V67H855.44z"/>
<path fill="#ffffff" d="M615.4 30H617.02V32H615.4zM655.94 30H657.57V32H655.94zM688.38 30H690V32H688.38zM717.58 30H719.2V32H717.58zM870.04 30H871.66V32H870.04zM873.28 30H874.9V32H873.28zM876.52 30H881.39V32H876.52zM887.88 30H889.5V32H887.88zM537.54 32H539.17V35H537.54zM581.34 32H582.96V35H581.34zM587.82 32H589.45V35H587.82zM628.37 32H629.99V35H628.37zM646.21 32H647.83V35H646.21zM649.46 32H651.08V35H649.46zM655.94 32H657.57V35H655.94zM670.54 32H672.16V35H670.54zM691.63 32H693.25V35H691.63zM732.17 32H733.8V35H732.17zM740.28 32H741.91V35H740.28zM795.43 32H797.05V35H795.43zM800.29 32H801.92V35H800.29zM824.62 32H826.25V35H824.62zM835.98 32H837.6V35H835.98zM850.57 32H852.2V35H850.57zM858.68 32H861.93V35H858.68zM870.04 32H871.66V35H870.04zM879.77 32H881.39V35H879.77zM886.26 32H887.88V35H886.26zM550.52 35H552.14V38H550.52zM600.8 35H602.42V38H600.8zM741.91 35H743.53V38H741.91zM798.67 35H800.29V38H798.67zM850.57 35H853.82V38H850.57zM860.31 35H861.93V38H860.31zM878.15 35H881.39V38H878.15zM883.01 35H884.63V38H883.01zM886.26 35H887.88V38H886.26zM535.92 61H537.54V64H535.92zM539.17 61H540.79V64H539.17zM553.76 61H563.49V64H553.76zM568.36 61H569.98V64H568.36zM571.6 61H573.23V64H571.6zM576.47 61H587.82V64H576.47zM591.07 61H595.93V64H591.07zM607.29 61H610.53V64H607.29zM615.4 61H620.26V64H615.4zM621.88 61H623.51V64H621.88zM629.99 61H631.62V64H629.99zM638.1 61H639.72V64H638.1zM641.35 61H642.97V64H641.35zM647.83 61H651.08V64H647.83zM655.94 61H659.19V64H655.94zM667.3 61H668.92V64H667.3zM685.14 61H686.76V64H685.14zM688.38 61H690V64H688.38zM691.63 61H693.25V64H691.63zM696.49 61H698.11V64H696.49zM717.58 61H719.2V64H717.58zM727.31 61H728.93V64H727.31zM730.55 61H732.17V64H730.55zM737.04 61H740.28V64H737.04zM769.48 61H771.1V64H769.48zM772.72 61H774.34V64H772.72zM782.45 61H784.08V64H782.45zM788.94 61H790.56V64H788.94zM793.81 61H795.43V64H793.81zM800.29 61H801.92V64H800.29zM806.78 61H808.4V64H806.78zM823 61H826.25V64H823zM832.73 61H834.35V64H832.73zM840.84 61H842.46V64H840.84zM852.2 61H853.82V64H852.2zM857.06 61H858.68V64H857.06zM860.31 61H861.93V64H860.31zM866.79 61H868.42V64H866.79zM870.04 61H871.66V64H870.04zM874.9 61H876.52V64H874.9zM878.15 61H883.01V64H878.15zM886.26 61H889.5V64H886.26zM535.92 64H540.79V67H535.92zM542.41 64H544.03V67H542.41zM545.65 64H547.28V67H545.65zM555.38 64H557.01V67H555.38zM558.63 64H565.12V67H558.63zM568.36 64H569.98V67H568.36zM574.85 64H576.47V67H574.85zM579.71 64H582.96V67H579.71zM584.58 64H586.2V67H584.58zM587.82 64H592.69V67H587.82zM594.31 64H595.93V67H594.31zM597.55 64H599.18V67H597.55zM615.4 64H617.02V67H615.4zM628.37 64H631.62V67H628.37zM641.35 64H642.97V67H641.35zM647.83 64H649.46V67H647.83zM657.57 64H659.19V67H657.57zM665.68 64H668.92V67H665.68zM670.54 64H673.78V67H670.54zM677.03 64H678.65V67H677.03zM685.14 64H690V67H685.14zM691.63 64H694.87V67H691.63zM702.98 64H704.6V67H702.98zM706.22 64H707.85V67H706.22zM719.2 64H720.82V67H719.2zM728.93 64H732.17V67H728.93zM737.04 64H738.66V67H737.04zM741.91 64H743.53V67H741.91zM750.02 64H751.64V67H750.02zM754.88 64H756.5V67H754.88zM762.99 64H764.61V67H762.99zM766.23 64H767.86V67H766.23zM798.67 64H801.92V67H798.67zM803.54 64H805.16V67H803.54zM813.27 64H814.89V67H813.27zM832.73 64H834.35V67H832.73zM842.46 64H844.09V67H842.46zM847.33 64H848.95V67H847.33zM850.57 64H852.2V67H850.57zM857.06 64H861.93V67H857.06zM863.55 64H865.17V67H863.55zM866.79 64H868.42V67H866.79zM876.52 64H878.15V67H876.52zM879.77 64H883.01V67H879.77zM887.88 64H889.5V67H887.88z"/>
<path fill="#fcffff" d="M647.83 30H649.46V32H647.83zM685.14 30H686.76V32H685.14zM691.63 30H694.87V32H691.63zM714.33 30H715.95V32H714.33zM534.3 32H537.54V35H534.3zM615.4 32H617.02V35H615.4zM654.32 32H655.94V35H654.32zM672.16 32H673.78V35H672.16zM730.55 32H732.17V35H730.55zM840.84 32H842.46V35H840.84zM857.06 32H858.68V35H857.06zM615.4 35H617.02V38H615.4zM874.9 35H876.52V38H874.9zM540.79 61H542.41V64H540.79zM545.65 61H547.28V64H545.65zM589.45 61H591.07V64H589.45zM600.8 61H602.42V64H600.8zM652.7 61H654.32V64H652.7zM670.54 61H672.16V64H670.54zM694.87 61H696.49V64H694.87zM728.93 61H730.55V64H728.93zM842.46 61H844.09V64H842.46zM850.57 61H852.2V64H850.57zM540.79 64H542.41V67H540.79zM550.52 64H552.14V67H550.52zM569.98 64H571.6V67H569.98zM573.23 64H574.85V67H573.23zM595.93 64H597.55V67H595.93zM600.8 64H602.42V67H600.8zM631.62 64H633.24V67H631.62zM714.33 64H715.95V67H714.33zM720.82 64H722.44V67H720.82zM740.28 64H741.91V67H740.28zM745.15 64H746.77V67H745.15zM761.37 64H762.99V67H761.37zM824.62 64H826.25V67H824.62zM852.2 64H853.82V67H852.2zM865.17 64H866.79V67H865.17z"/>
<path fill="#e8f0f0" d="M681.89 30H683.52V32H681.89zM722.44 30H724.06V32H722.44zM868.42 30H870.04V32H868.42zM566.74 32H568.36V35H566.74zM620.26 32H621.88V35H620.26zM873.28 32H874.9V35H873.28zM534.3 35H535.92V38H534.3zM544.03 35H545.65V38H544.03zM566.74 35H568.36V38H566.74zM571.6 35H573.23V38H571.6zM579.71 35H581.34V38H579.71zM617.02 35H620.26V38H617.02zM651.08 35H652.7V38H651.08zM665.68 35H667.3V38H665.68zM722.44 35H724.06V38H722.44zM725.69 35H727.31V38H725.69zM779.21 35H780.83V38H779.21zM821.38 35H823V38H821.38zM826.25 35H831.11V38H826.25zM842.46 35H844.09V38H842.46zM847.33 35H848.95V38H847.33zM853.82 35H855.44V38H853.82zM868.42 35H870.04V38H868.42zM612.15 38H613.77V41H612.15zM621.88 38H623.51V41H621.88zM659.19 38H660.81V41H659.19zM664.05 38H665.68V41H664.05zM667.3 38H668.92V41H667.3zM672.16 38H673.78V41H672.16zM712.71 38H714.33V41H712.71zM719.2 38H720.82V41H719.2zM730.55 38H732.17V41H730.55zM737.04 38H738.66V41H737.04zM761.37 38H764.61V41H761.37zM766.23 38H767.86V41H766.23zM832.73 38H834.35V41H832.73zM844.09 38H845.71V41H844.09zM850.57 38H852.2V41H850.57zM853.82 38H855.44V41H853.82zM857.06 38H860.31V41H857.06zM866.79 38H868.42V41H866.79zM878.15 38H879.77V41H878.15zM886.26 38H887.88V41H886.26zM881.39 58H883.01V61H881.39zM681.89 61H683.52V64H681.89zM725.69 64H727.31V67H725.69zM777.59 64H779.21V67H777.59zM814.89 64H816.51V67H814.89zM868.42 64H870.04V67H868.42zM638.1 67H639.72V70H638.1zM646.21 67H647.83V70H646.21zM652.7 67H654.32V70H652.7zM660.81 67H662.43V70H660.81zM668.92 67H670.54V70H668.92zM688.38 67H691.63V70H688.38zM696.49 67H698.11V70H696.49zM704.6 67H706.22V70H704.6zM707.85 67H712.71V70H707.85zM727.31 67H728.93V70H727.31zM730.55 67H732.17V70H730.55zM737.04 67H738.66V70H737.04zM740.28 67H741.91V70H740.28zM748.39 67H750.02V70H748.39zM762.99 67H764.61V70H762.99zM771.1 67H772.72V70H771.1zM775.97 67H777.59V70H775.97zM780.83 67H782.45V70H780.83zM800.29 67H801.92V70H800.29zM806.78 67H808.4V70H806.78zM819.76 67H823V70H819.76zM824.62 67H826.25V70H824.62zM835.98 67H837.6V70H835.98zM850.57 67H852.2V70H850.57zM868.42 67H871.66V70H868.42zM881.39 67H883.01V70H881.39zM878.15 70H879.77V72H878.15zM879.77 72H881.39V75H879.77z"/>
<path fill="#e4f0f0" d="M883.01 30H884.63V32H883.01zM623.51 35H625.13V38H623.51zM557.01 38H558.63V41H557.01zM561.87 38H563.49V41H561.87zM568.36 38H569.98V41H568.36zM639.72 38H642.97V41H639.72zM647.83 38H649.46V41H647.83zM660.81 38H662.43V41H660.81zM675.41 38H677.03V41H675.41zM699.74 38H701.36V41H699.74zM733.8 38H735.42V41H733.8zM741.91 38H743.53V41H741.91zM759.75 38H761.37V41H759.75zM774.34 38H777.59V41H774.34zM824.62 38H826.25V41H824.62zM868.42 38H870.04V41H868.42zM586.2 67H587.82V70H586.2zM615.4 67H617.02V70H615.4zM621.88 67H623.51V70H621.88zM628.37 67H629.99V70H628.37zM655.94 67H657.57V70H655.94zM670.54 67H675.41V70H670.54zM694.87 67H696.49V70H694.87zM717.58 67H719.2V70H717.58zM764.61 67H766.23V70H764.61zM769.48 67H771.1V70H769.48zM774.34 67H775.97V70H774.34zM785.7 67H787.32V70H785.7zM795.43 67H797.05V70H795.43zM813.27 67H814.89V70H813.27zM823 67H824.62V70H823zM842.46 67H844.09V70H842.46zM876.52 67H878.15V70H876.52z"/>
<path fill="#ecf0f0" d="M668.92 32H670.54V35H668.92zM701.36 32H702.98V35H701.36zM712.71 32H714.33V35H712.71zM797.05 32H798.67V35H797.05zM821.38 32H823V35H821.38zM565.12 35H566.74V38H565.12zM573.23 35H574.85V38H573.23zM594.31 35H595.93V38H594.31zM642.97 35H644.59V38H642.97zM660.81 35H662.43V38H660.81zM690 35H691.63V38H690zM712.71 35H714.33V38H712.71zM865.17 35H866.79V38H865.17zM775.97 64H777.59V67H775.97zM719.2 67H720.82V70H719.2zM845.71 67H847.33V70H845.71zM857.06 67H858.68V70H857.06zM866.79 67H868.42V70H866.79z"/>
<path fill="#e4ecec" d="M725.69 32H727.31V35H725.69zM863.55 32H865.17V35H863.55zM874.9 32H876.52V35H874.9zM878.15 32H879.77V35H878.15zM602.42 35H604.04V38H602.42zM625.13 35H626.75V38H625.13zM751.64 35H753.26V38H751.64zM861.93 35H863.55V38H861.93zM873.28 35H874.9V38H873.28zM535.92 38H537.54V41H535.92zM540.79 38H542.41V41H540.79zM550.52 38H552.14V41H550.52zM555.38 38H557.01V41H555.38zM563.49 38H565.12V41H563.49zM569.98 38H571.6V41H569.98zM574.85 38H576.47V41H574.85zM586.2 38H595.93V41H586.2zM600.8 38H604.04V41H600.8zM613.77 38H617.02V41H613.77zM629.99 38H631.62V41H629.99zM636.48 38H639.72V41H636.48zM646.21 38H647.83V41H646.21zM649.46 38H651.08V41H649.46zM652.7 38H654.32V41H652.7zM665.68 38H667.3V41H665.68zM670.54 38H672.16V41H670.54zM673.78 38H675.41V41H673.78zM686.76 38H688.38V41H686.76zM690 38H699.74V41H690zM701.36 38H702.98V41H701.36zM706.22 38H707.85V41H706.22zM709.47 38H712.71V41H709.47zM714.33 38H715.95V41H714.33zM717.58 38H719.2V41H717.58zM727.31 38H730.55V41H727.31zM738.66 38H740.28V41H738.66zM743.53 38H746.77V41H743.53zM753.26 38H754.88V41H753.26zM756.5 38H759.75V41H756.5zM769.48 38H771.1V41H769.48zM777.59 38H779.21V41H777.59zM792.18 38H795.43V41H792.18zM797.05 38H800.29V41H797.05zM801.92 38H803.54V41H801.92zM806.78 38H810.03V41H806.78zM816.51 38H818.14V41H816.51zM819.76 38H821.38V41H819.76zM823 38H824.62V41H823zM826.25 38H829.49V41H826.25zM831.11 38H832.73V41H831.11zM835.98 38H837.6V41H835.98zM839.22 38H842.46V41H839.22zM848.95 38H850.57V41H848.95zM871.66 38H873.28V41H871.66zM879.77 41H881.39V44H879.77zM858.68 58H860.31V61H858.68zM886.26 58H887.88V61H886.26zM550.52 67H552.14V70H550.52zM560.25 67H561.87V70H560.25zM581.34 67H582.96V70H581.34zM594.31 67H595.93V70H594.31zM605.66 67H610.53V70H605.66zM613.77 67H615.4V70H613.77zM618.64 67H620.26V70H618.64zM625.13 67H628.37V70H625.13zM629.99 67H631.62V70H629.99zM633.24 67H634.86V70H633.24zM636.48 67H638.1V70H636.48zM639.72 67H642.97V70H639.72zM654.32 67H655.94V70H654.32zM657.57 67H660.81V70H657.57zM685.14 67H688.38V70H685.14zM691.63 67H694.87V70H691.63zM699.74 67H701.36V70H699.74zM714.33 67H717.58V70H714.33zM720.82 67H722.44V70H720.82zM724.06 67H725.69V70H724.06zM728.93 67H730.55V70H728.93zM732.17 67H733.8V70H732.17zM738.66 67H740.28V70H738.66zM743.53 67H748.39V70H743.53zM750.02 67H753.26V70H750.02zM758.12 67H762.99V70H758.12zM772.72 67H774.34V70H772.72zM777.59 67H780.83V70H777.59zM784.08 67H785.7V70H784.08zM788.94 67H790.56V70H788.94zM798.67 67H800.29V70H798.67zM818.14 67H819.76V70H818.14zM826.25 67H831.11V70H826.25zM832.73 67H835.98V70H832.73zM839.22 67H842.46V70H839.22zM844.09 67H845.71V70H844.09zM847.33 67H850.57V70H847.33zM852.2 67H853.82V70H852.2zM858.68 67H860.31V70H858.68zM865.17 67H866.79V70H865.17zM878.15 67H879.77V70H878.15zM881.39 70H883.01V72H881.39zM887.88 70H889.5V72H887.88z"/>
<path fill="#e0ecec" d="M866.79 35H868.42V38H866.79zM537.54 38H540.79V41H537.54zM545.65 38H548.9V41H545.65zM558.63 38H561.87V41H558.63zM566.74 38H568.36V41H566.74zM576.47 38H578.09V41H576.47zM579.71 38H582.96V41H579.71zM584.58 38H586.2V41H584.58zM597.55 38H599.18V41H597.55zM604.04 38H607.29V41H604.04zM617.02 38H620.26V41H617.02zM625.13 38H629.99V41H625.13zM642.97 38H644.59V41H642.97zM654.32 38H659.19V41H654.32zM662.43 38H664.05V41H662.43zM668.92 38H670.54V41H668.92zM681.89 38H683.52V41H681.89zM685.14 38H686.76V41H685.14zM688.38 38H690V41H688.38zM704.6 38H706.22V41H704.6zM722.44 38H725.69V41H722.44zM732.17 38H733.8V41H732.17zM735.42 38H737.04V41H735.42zM740.28 38H741.91V41H740.28zM750.02 38H753.26V41H750.02zM754.88 38H756.5V41H754.88zM764.61 38H766.23V41H764.61zM771.1 38H772.72V41H771.1zM780.83 38H784.08V41H780.83zM788.94 38H790.56V41H788.94zM795.43 38H797.05V41H795.43zM800.29 38H801.92V41H800.29zM803.54 38H805.16V41H803.54zM813.27 38H816.51V41H813.27zM818.14 38H819.76V41H818.14zM834.35 38H835.98V41H834.35zM847.33 38H848.95V41H847.33zM852.2 38H853.82V41H852.2zM881.39 38H883.01V41H881.39zM887.88 38H889.5V41H887.88zM871.66 41H873.28V44H871.66zM874.9 41H876.52V44H874.9zM853.82 58H855.44V61H853.82zM871.66 58H873.28V61H871.66zM874.9 58H876.52V61H874.9zM879.77 58H881.39V61H879.77zM535.92 67H542.41V70H535.92zM545.65 67H547.28V70H545.65zM558.63 67H560.25V70H558.63zM563.49 67H565.12V70H563.49zM569.98 67H571.6V70H569.98zM573.23 67H579.71V70H573.23zM582.96 67H584.58V70H582.96zM587.82 67H594.31V70H587.82zM600.8 67H602.42V70H600.8zM604.04 67H605.66V70H604.04zM610.53 67H612.15V70H610.53zM617.02 67H618.64V70H617.02zM620.26 67H621.88V70H620.26zM623.51 67H625.13V70H623.51zM634.86 67H636.48V70H634.86zM642.97 67H646.21V70H642.97zM647.83 67H652.7V70H647.83zM662.43 67H668.92V70H662.43zM675.41 67H677.03V70H675.41zM678.65 67H685.14V70H678.65zM698.11 67H699.74V70H698.11zM701.36 67H702.98V70H701.36zM706.22 67H707.85V70H706.22zM712.71 67H714.33V70H712.71zM722.44 67H724.06V70H722.44zM735.42 67H737.04V70H735.42zM741.91 67H743.53V70H741.91zM754.88 67H758.12V70H754.88zM766.23 67H769.48V70H766.23zM782.45 67H784.08V70H782.45zM790.56 67H792.18V70H790.56zM793.81 67H795.43V70H793.81zM803.54 67H806.78V70H803.54zM808.4 67H813.27V70H808.4zM814.89 67H818.14V70H814.89zM831.11 67H832.73V70H831.11zM837.6 67H839.22V70H837.6zM853.82 67H855.44V70H853.82zM861.93 67H863.55V70H861.93zM866.79 72H871.66V75H866.79z"/>
<path fill="#d8e8e8" d="M534.3 38H535.92V41H534.3zM610.53 38H612.15V41H610.53zM620.26 38H621.88V41H620.26zM725.69 38H727.31V41H725.69zM873.28 38H874.9V41H873.28zM727.31 41H728.93V44H727.31zM730.55 41H732.17V44H730.55zM857.06 41H858.68V44H857.06zM881.39 41H883.01V44H881.39zM887.88 41H889.5V44H887.88zM887.88 44H889.5V47H887.88zM871.66 55H873.28V58H871.66zM832.73 58H834.35V61H832.73zM847.33 58H848.95V61H847.33zM878.15 58H879.77V61H878.15zM887.88 58H889.5V61H887.88zM628.37 70H629.99V72H628.37zM641.35 70H642.97V72H641.35zM644.59 70H646.21V72H644.59zM688.38 70H690V72H688.38zM709.47 70H714.33V72H709.47zM717.58 70H719.2V72H717.58zM769.48 70H771.1V72H769.48zM782.45 70H784.08V72H782.45zM790.56 70H792.18V72H790.56zM797.05 70H800.29V72H797.05zM835.98 70H837.6V72H835.98zM857.06 70H858.68V72H857.06zM876.52 70H878.15V72H876.52zM558.63 72H560.25V75H558.63zM730.55 72H732.17V75H730.55zM761.37 72H762.99V75H761.37zM775.97 72H777.59V75H775.97zM795.43 72H797.05V75H795.43zM857.06 72H858.68V75H857.06zM871.66 72H873.28V75H871.66zM874.9 72H876.52V75H874.9zM887.88 72H889.5V75H887.88z"/>
<path fill="#dce8e8" d="M542.41 38H544.03V41H542.41zM553.76 38H555.38V41H553.76zM571.6 38H573.23V41H571.6zM582.96 38H584.58V41H582.96zM599.18 38H600.8V41H599.18zM607.29 38H608.91V41H607.29zM631.62 38H634.86V41H631.62zM644.59 38H646.21V41H644.59zM651.08 38H652.7V41H651.08zM746.77 38H748.39V41H746.77zM767.86 38H769.48V41H767.86zM811.65 38H813.27V41H811.65zM821.38 38H823V41H821.38zM837.6 38H839.22V41H837.6zM842.46 38H844.09V41H842.46zM845.71 38H847.33V41H845.71zM860.31 41H861.93V44H860.31zM886.26 44H887.88V47H886.26zM691.63 58H693.25V61H691.63zM534.3 67H535.92V70H534.3zM544.03 67H545.65V70H544.03zM548.9 67H550.52V70H548.9zM552.14 67H555.38V70H552.14zM571.6 67H573.23V70H571.6zM579.71 67H581.34V70H579.71zM584.58 67H586.2V70H584.58zM595.93 67H597.55V70H595.93zM612.15 67H613.77V70H612.15zM631.62 67H633.24V70H631.62zM677.03 67H678.65V70H677.03zM702.98 67H704.6V70H702.98zM725.69 67H727.31V70H725.69zM733.8 67H735.42V70H733.8zM863.55 67H865.17V70H863.55zM655.94 70H657.57V72H655.94zM667.3 70H668.92V72H667.3zM690 70H693.25V72H690zM694.87 70H696.49V72H694.87zM740.28 70H741.91V72H740.28zM762.99 70H764.61V72H762.99zM787.32 70H788.94V72H787.32zM795.43 70H797.05V72H795.43zM800.29 70H801.92V72H800.29zM832.73 70H834.35V72H832.73zM842.46 70H844.09V72H842.46zM847.33 70H850.57V72H847.33zM853.82 70H855.44V72H853.82zM858.68 70H861.93V72H858.68zM871.66 70H873.28V72H871.66zM874.9 70H876.52V72H874.9zM597.55 72H599.18V75H597.55zM647.83 72H649.46V75H647.83zM696.49 72H698.11V75H696.49zM719.2 72H720.82V75H719.2zM727.31 72H728.93V75H727.31zM732.17 72H733.8V75H732.17zM850.57 72H852.2V75H850.57zM860.31 72H861.93V75H860.31z"/>
<path fill="#e0e8e8" d="M544.03 38H545.65V41H544.03zM552.14 38H553.76V41H552.14zM565.12 38H566.74V41H565.12zM573.23 38H574.85V41H573.23zM578.09 38H579.71V41H578.09zM595.93 38H597.55V41H595.93zM608.91 38H610.53V41H608.91zM623.51 38H625.13V41H623.51zM634.86 38H636.48V41H634.86zM683.52 38H685.14V41H683.52zM702.98 38H704.6V41H702.98zM707.85 38H709.47V41H707.85zM715.95 38H717.58V41H715.95zM720.82 38H722.44V41H720.82zM748.39 38H750.02V41H748.39zM772.72 38H774.34V41H772.72zM779.21 38H780.83V41H779.21zM784.08 38H788.94V41H784.08zM790.56 38H792.18V41H790.56zM805.16 38H806.78V41H805.16zM810.03 38H811.65V41H810.03zM829.49 38H831.11V41H829.49zM855.44 38H857.06V41H855.44zM861.93 38H863.55V41H861.93zM865.17 38H866.79V41H865.17zM883.01 38H884.63V41H883.01zM886.26 41H887.88V44H886.26zM542.41 67H544.03V70H542.41zM547.28 67H548.9V70H547.28zM555.38 67H558.63V70H555.38zM561.87 67H563.49V70H561.87zM565.12 67H569.98V70H565.12zM597.55 67H600.8V70H597.55zM602.42 67H604.04V70H602.42zM753.26 67H754.88V70H753.26zM787.32 67H788.94V70H787.32zM797.05 67H798.67V70H797.05zM801.92 67H803.54V70H801.92zM873.28 67H874.9V70H873.28zM883.01 67H884.63V70H883.01zM587.82 70H589.45V72H587.82z"/>
<path fill="#d4e4e4" d="M548.9 38H550.52V41H548.9zM884.63 38H886.26V41H884.63zM539.17 41H540.79V44H539.17zM547.28 41H548.9V44H547.28zM558.63 41H563.49V44H558.63zM579.71 41H581.34V44H579.71zM626.75 41H628.37V44H626.75zM629.99 41H631.62V44H629.99zM641.35 41H642.97V44H641.35zM652.7 41H654.32V44H652.7zM657.57 41H659.19V44H657.57zM660.81 41H662.43V44H660.81zM665.68 41H667.3V44H665.68zM672.16 41H673.78V44H672.16zM677.03 41H678.65V44H677.03zM691.63 41H693.25V44H691.63zM694.87 41H696.49V44H694.87zM699.74 41H701.36V44H699.74zM717.58 41H720.82V44H717.58zM740.28 41H741.91V44H740.28zM745.15 41H748.39V44H745.15zM754.88 41H756.5V44H754.88zM759.75 41H761.37V44H759.75zM769.48 41H771.1V44H769.48zM800.29 41H801.92V44H800.29zM803.54 41H805.16V44H803.54zM824.62 41H826.25V44H824.62zM831.11 41H834.35V44H831.11zM837.6 41H839.22V44H837.6zM850.57 41H852.2V44H850.57zM853.82 41H855.44V44H853.82zM870.04 41H871.66V44H870.04zM873.28 41H874.9V44H873.28zM886.26 55H887.88V58H886.26zM540.79 58H542.41V61H540.79zM550.52 58H553.76V61H550.52zM558.63 58H560.25V61H558.63zM586.2 58H587.82V61H586.2zM617.02 58H618.64V61H617.02zM623.51 58H625.13V61H623.51zM634.86 58H636.48V61H634.86zM641.35 58H642.97V61H641.35zM644.59 58H646.21V61H644.59zM652.7 58H654.32V61H652.7zM655.94 58H659.19V61H655.94zM662.43 58H664.05V61H662.43zM667.3 58H670.54V61H667.3zM672.16 58H673.78V61H672.16zM677.03 58H678.65V61H677.03zM686.76 58H688.38V61H686.76zM690 58H691.63V61H690zM693.25 58H694.87V61H693.25zM698.11 58H699.74V61H698.11zM706.22 58H707.85V61H706.22zM711.09 58H712.71V61H711.09zM714.33 58H717.58V61H714.33zM719.2 58H720.82V61H719.2zM727.31 58H728.93V61H727.31zM730.55 58H733.8V61H730.55zM738.66 58H740.28V61H738.66zM741.91 58H745.15V61H741.91zM748.39 58H750.02V61H748.39zM751.64 58H753.26V61H751.64zM764.61 58H767.86V61H764.61zM769.48 58H771.1V61H769.48zM772.72 58H774.34V61H772.72zM782.45 58H784.08V61H782.45zM788.94 58H790.56V61H788.94zM793.81 58H795.43V61H793.81zM798.67 58H800.29V61H798.67zM806.78 58H810.03V61H806.78zM811.65 58H813.27V61H811.65zM816.51 58H819.76V61H816.51zM823 58H824.62V61H823zM831.11 58H832.73V61H831.11zM834.35 58H837.6V61H834.35zM840.84 58H842.46V61H840.84zM844.09 58H847.33V61H844.09zM850.57 58H852.2V61H850.57zM855.44 58H858.68V61H855.44zM884.63 58H886.26V61H884.63zM861.93 64H863.55V67H861.93zM884.63 67H886.26V70H884.63zM534.3 70H535.92V72H534.3zM539.17 70H542.41V72H539.17zM545.65 70H547.28V72H545.65zM550.52 70H552.14V72H550.52zM553.76 70H555.38V72H553.76zM557.01 70H566.74V72H557.01zM569.98 70H571.6V72H569.98zM573.23 70H574.85V72H573.23zM576.47 70H579.71V72H576.47zM581.34 70H587.82V72H581.34zM591.07 70H594.31V72H591.07zM595.93 70H599.18V72H595.93zM600.8 70H602.42V72H600.8zM605.66 70H608.91V72H605.66zM610.53 70H612.15V72H610.53zM615.4 70H618.64V72H615.4zM625.13 70H626.75V72H625.13zM636.48 70H638.1V72H636.48zM642.97 70H644.59V72H642.97zM649.46 70H652.7V72H649.46zM654.32 70H655.94V72H654.32zM657.57 70H660.81V72H657.57zM662.43 70H664.05V72H662.43zM665.68 70H667.3V72H665.68zM670.54 70H672.16V72H670.54zM677.03 70H678.65V72H677.03zM681.89 70H688.38V72H681.89zM693.25 70H694.87V72H693.25zM698.11 70H709.47V72H698.11zM714.33 70H717.58V72H714.33zM719.2 70H722.44V72H719.2zM727.31 70H728.93V72H727.31zM732.17 70H733.8V72H732.17zM735.42 70H740.28V72H735.42zM741.91 70H745.15V72H741.91zM746.77 70H748.39V72H746.77zM751.64 70H754.88V72H751.64zM756.5 70H759.75V72H756.5zM761.37 70H762.99V72H761.37zM764.61 70H769.48V72H764.61zM771.1 70H782.45V72H771.1zM785.7 70H787.32V72H785.7zM788.94 70H790.56V72H788.94zM792.18 70H793.81V72H792.18zM801.92 70H805.16V72H801.92zM808.4 70H816.51V72H808.4zM818.14 70H819.76V72H818.14zM823 70H827.87V72H823zM829.49 70H832.73V72H829.49zM834.35 70H835.98V72H834.35zM844.09 70H845.71V72H844.09zM850.57 70H853.82V72H850.57zM855.44 70H857.06V72H855.44zM861.93 70H863.55V72H861.93zM866.79 70H868.42V72H866.79zM870.04 70H871.66V72H870.04zM534.3 72H539.17V75H534.3zM545.65 72H548.9V75H545.65zM550.52 72H552.14V75H550.52zM553.76 72H558.63V75H553.76zM560.25 72H561.87V75H560.25zM563.49 72H565.12V75H563.49zM566.74 72H569.98V75H566.74zM573.23 72H574.85V75H573.23zM579.71 72H584.58V75H579.71zM586.2 72H589.45V75H586.2zM592.69 72H594.31V75H592.69zM595.93 72H597.55V75H595.93zM608.91 72H612.15V75H608.91zM615.4 72H617.02V75H615.4zM620.26 72H623.51V75H620.26zM628.37 72H631.62V75H628.37zM633.24 72H634.86V75H633.24zM641.35 72H642.97V75H641.35zM644.59 72H647.83V75H644.59zM649.46 72H651.08V75H649.46zM652.7 72H654.32V75H652.7zM655.94 72H657.57V75H655.94zM659.19 72H662.43V75H659.19zM664.05 72H665.68V75H664.05zM668.92 72H672.16V75H668.92zM675.41 72H678.65V75H675.41zM683.52 72H685.14V75H683.52zM686.76 72H696.49V75H686.76zM699.74 72H701.36V75H699.74zM702.98 72H706.22V75H702.98zM707.85 72H712.71V75H707.85zM714.33 72H715.95V75H714.33zM717.58 72H719.2V75H717.58zM728.93 72H730.55V75H728.93zM733.8 72H737.04V75H733.8zM738.66 72H740.28V75H738.66zM741.91 72H758.12V75H741.91zM762.99 72H764.61V75H762.99zM774.34 72H775.97V75H774.34zM777.59 72H782.45V75H777.59zM785.7 72H787.32V75H785.7zM792.18 72H793.81V75H792.18zM801.92 72H803.54V75H801.92zM805.16 72H806.78V75H805.16zM808.4 72H810.03V75H808.4zM813.27 72H818.14V75H813.27zM823 72H824.62V75H823zM826.25 72H827.87V75H826.25zM832.73 72H834.35V75H832.73zM835.98 72H840.84V75H835.98zM842.46 72H844.09V75H842.46zM845.71 72H848.95V75H845.71zM852.2 72H853.82V75H852.2zM858.68 72H860.31V75H858.68zM876.52 72H878.15V75H876.52z"/>
<path fill="#d8e4e4" d="M863.55 38H865.17V41H863.55zM644.59 41H646.21V44H644.59zM688.38 41H690V44H688.38zM774.34 58H775.97V61H774.34zM795.43 58H797.05V61H795.43zM800.29 58H801.92V61H800.29zM555.38 70H557.01V72H555.38zM604.04 70H605.66V72H604.04zM613.77 70H615.4V72H613.77zM629.99 70H631.62V72H629.99zM639.72 70H641.35V72H639.72zM647.83 70H649.46V72H647.83zM652.7 70H654.32V72H652.7zM672.16 70H673.78V72H672.16zM675.41 70H677.03V72H675.41zM696.49 70H698.11V72H696.49zM728.93 70H732.17V72H728.93zM748.39 70H750.02V72H748.39zM754.88 70H756.5V72H754.88zM759.75 70H761.37V72H759.75zM784.08 70H785.7V72H784.08zM816.51 70H818.14V72H816.51zM819.76 70H821.38V72H819.76zM845.71 70H847.33V72H845.71zM540.79 72H542.41V75H540.79zM576.47 72H578.09V75H576.47zM604.04 72H605.66V75H604.04zM665.68 72H667.3V75H665.68zM672.16 72H675.41V75H672.16zM685.14 72H686.76V75H685.14zM737.04 72H738.66V75H737.04zM740.28 72H741.91V75H740.28zM766.23 72H767.86V75H766.23zM769.48 72H771.1V75H769.48zM782.45 72H784.08V75H782.45zM798.67 72H800.29V75H798.67zM818.14 72H821.38V75H818.14zM824.62 72H826.25V75H824.62zM834.35 72H835.98V75H834.35zM848.95 72H850.57V75H848.95zM881.39 72H883.01V75H881.39z"/>
<path fill="#cce0e0" d="M534.3 41H535.92V44H534.3zM542.41 41H544.03V44H542.41zM553.76 41H555.38V44H553.76zM566.74 41H568.36V44H566.74zM571.6 41H573.23V44H571.6zM576.47 41H578.09V44H576.47zM584.58 41H587.82V44H584.58zM591.07 41H592.69V44H591.07zM607.29 41H610.53V44H607.29zM612.15 41H613.77V44H612.15zM617.02 41H618.64V44H617.02zM623.51 41H625.13V44H623.51zM636.48 41H638.1V44H636.48zM646.21 41H647.83V44H646.21zM659.19 41H660.81V44H659.19zM664.05 41H665.68V44H664.05zM668.92 41H670.54V44H668.92zM680.27 41H683.52V44H680.27zM693.25 41H694.87V44H693.25zM702.98 41H704.6V44H702.98zM714.33 41H715.95V44H714.33zM728.93 41H730.55V44H728.93zM733.8 41H735.42V44H733.8zM748.39 41H750.02V44H748.39zM764.61 41H766.23V44H764.61zM772.72 41H774.34V44H772.72zM779.21 41H780.83V44H779.21zM787.32 41H788.94V44H787.32zM801.92 41H803.54V44H801.92zM805.16 41H806.78V44H805.16zM808.4 41H810.03V44H808.4zM811.65 41H813.27V44H811.65zM826.25 41H827.87V44H826.25zM829.49 41H831.11V44H829.49zM834.35 41H835.98V44H834.35zM848.95 41H850.57V44H848.95zM858.68 41H860.31V44H858.68zM865.17 41H866.79V44H865.17zM876.52 41H878.15V44H876.52zM883.01 41H884.63V44H883.01zM879.77 44H881.39V47H879.77zM621.88 55H623.51V58H621.88zM629.99 55H631.62V58H629.99zM670.54 55H672.16V58H670.54zM688.38 55H690V58H688.38zM691.63 55H693.25V58H691.63zM808.4 55H810.03V58H808.4zM832.73 55H834.35V58H832.73zM863.55 55H865.17V58H863.55zM874.9 55H876.52V58H874.9zM542.41 58H544.03V61H542.41zM545.65 58H548.9V61H545.65zM557.01 58H558.63V61H557.01zM565.12 58H568.36V61H565.12zM569.98 58H571.6V61H569.98zM573.23 58H574.85V61H573.23zM578.09 58H579.71V61H578.09zM582.96 58H584.58V61H582.96zM589.45 58H592.69V61H589.45zM594.31 58H595.93V61H594.31zM605.66 58H607.29V61H605.66zM620.26 58H621.88V61H620.26zM626.75 58H628.37V61H626.75zM642.97 58H644.59V61H642.97zM675.41 58H677.03V61H675.41zM733.8 58H735.42V61H733.8zM756.5 58H758.12V61H756.5zM805.16 58H806.78V61H805.16zM810.03 58H811.65V61H810.03zM813.27 58H814.89V61H813.27zM826.25 58H827.87V61H826.25zM837.6 58H839.22V61H837.6zM860.31 58H863.55V61H860.31zM866.79 58H868.42V61H866.79zM544.03 70H545.65V72H544.03zM547.28 70H550.52V72H547.28zM571.6 70H573.23V72H571.6zM574.85 70H576.47V72H574.85zM561.87 72H563.49V75H561.87zM584.58 72H586.2V75H584.58zM634.86 72H636.48V75H634.86zM680.27 72H681.89V75H680.27zM720.82 72H722.44V75H720.82zM725.69 72H727.31V75H725.69zM821.38 72H823V75H821.38zM829.49 72H831.11V75H829.49zM861.93 72H863.55V75H861.93zM883.01 72H884.63V75H883.01z"/>
<path fill="#d0e0e0" d="M535.92 41H539.17V44H535.92zM540.79 41H542.41V44H540.79zM545.65 41H547.28V44H545.65zM563.49 41H566.74V44H563.49zM568.36 41H571.6V44H568.36zM573.23 41H576.47V44H573.23zM578.09 41H579.71V44H578.09zM581.34 41H584.58V44H581.34zM589.45 41H591.07V44H589.45zM594.31 41H602.42V44H594.31zM604.04 41H607.29V44H604.04zM613.77 41H617.02V44H613.77zM618.64 41H621.88V44H618.64zM628.37 41H629.99V44H628.37zM633.24 41H636.48V44H633.24zM638.1 41H641.35V44H638.1zM642.97 41H644.59V44H642.97zM647.83 41H652.7V44H647.83zM654.32 41H655.94V44H654.32zM667.3 41H668.92V44H667.3zM675.41 41H677.03V44H675.41zM683.52 41H686.76V44H683.52zM690 41H691.63V44H690zM707.85 41H709.47V44H707.85zM711.09 41H712.71V44H711.09zM715.95 41H717.58V44H715.95zM720.82 41H725.69V44H720.82zM735.42 41H740.28V44H735.42zM741.91 41H745.15V44H741.91zM750.02 41H751.64V44H750.02zM753.26 41H754.88V44H753.26zM761.37 41H762.99V44H761.37zM767.86 41H769.48V44H767.86zM771.1 41H772.72V44H771.1zM775.97 41H777.59V44H775.97zM780.83 41H787.32V44H780.83zM790.56 41H797.05V44H790.56zM810.03 41H811.65V44H810.03zM813.27 41H814.89V44H813.27zM816.51 41H819.76V44H816.51zM823 41H824.62V44H823zM827.87 41H829.49V44H827.87zM839.22 41H842.46V44H839.22zM844.09 41H848.95V44H844.09zM852.2 41H853.82V44H852.2zM861.93 41H863.55V44H861.93zM866.79 41H868.42V44H866.79zM853.82 55H855.44V58H853.82zM870.04 55H871.66V58H870.04zM876.52 55H878.15V58H876.52zM879.77 55H884.63V58H879.77zM535.92 58H537.54V61H535.92zM539.17 58H540.79V61H539.17zM553.76 58H555.38V61H553.76zM560.25 58H563.49V61H560.25zM574.85 58H578.09V61H574.85zM584.58 58H586.2V61H584.58zM587.82 58H589.45V61H587.82zM592.69 58H594.31V61H592.69zM599.18 58H602.42V61H599.18zM607.29 58H615.4V61H607.29zM621.88 58H623.51V61H621.88zM625.13 58H626.75V61H625.13zM628.37 58H634.86V61H628.37zM636.48 58H638.1V61H636.48zM659.19 58H660.81V61H659.19zM664.05 58H667.3V61H664.05zM670.54 58H672.16V61H670.54zM673.78 58H675.41V61H673.78zM681.89 58H686.76V61H681.89zM688.38 58H690V61H688.38zM696.49 58H698.11V61H696.49zM702.98 58H704.6V61H702.98zM712.71 58H714.33V61H712.71zM728.93 58H730.55V61H728.93zM735.42 58H737.04V61H735.42zM745.15 58H748.39V61H745.15zM754.88 58H756.5V61H754.88zM758.12 58H764.61V61H758.12zM767.86 58H769.48V61H767.86zM771.1 58H772.72V61H771.1zM775.97 58H780.83V61H775.97zM787.32 58H788.94V61H787.32zM790.56 58H793.81V61H790.56zM797.05 58H798.67V61H797.05zM814.89 58H816.51V61H814.89zM821.38 58H823V61H821.38zM839.22 58H840.84V61H839.22zM842.46 58H844.09V61H842.46zM876.52 58H878.15V61H876.52zM883.01 58H884.63V61H883.01zM542.41 70H544.03V72H542.41zM552.14 70H553.76V72H552.14zM568.36 70H569.98V72H568.36zM599.18 70H600.8V72H599.18zM608.91 70H610.53V72H608.91zM612.15 70H613.77V72H612.15zM618.64 70H620.26V72H618.64zM621.88 70H623.51V72H621.88zM633.24 70H634.86V72H633.24zM638.1 70H639.72V72H638.1zM646.21 70H647.83V72H646.21zM660.81 70H662.43V72H660.81zM678.65 70H681.89V72H678.65zM724.06 70H725.69V72H724.06zM733.8 70H735.42V72H733.8zM745.15 70H746.77V72H745.15zM793.81 70H795.43V72H793.81zM806.78 70H808.4V72H806.78zM821.38 70H823V72H821.38zM865.17 70H866.79V72H865.17zM868.42 70H870.04V72H868.42zM883.01 70H884.63V72H883.01zM544.03 72H545.65V75H544.03zM552.14 72H553.76V75H552.14zM565.12 72H566.74V75H565.12zM569.98 72H573.23V75H569.98zM574.85 72H576.47V75H574.85zM591.07 72H592.69V75H591.07zM602.42 72H604.04V75H602.42zM607.29 72H608.91V75H607.29zM612.15 72H615.4V75H612.15zM617.02 72H618.64V75H617.02zM638.1 72H641.35V75H638.1zM651.08 72H652.7V75H651.08zM657.57 72H659.19V75H657.57zM681.89 72H683.52V75H681.89zM698.11 72H699.74V75H698.11zM701.36 72H702.98V75H701.36zM706.22 72H707.85V75H706.22zM712.71 72H714.33V75H712.71zM715.95 72H717.58V75H715.95zM758.12 72H759.75V75H758.12zM764.61 72H766.23V75H764.61zM767.86 72H769.48V75H767.86zM771.1 72H772.72V75H771.1zM797.05 72H798.67V75H797.05zM803.54 72H805.16V75H803.54zM806.78 72H808.4V75H806.78zM810.03 72H813.27V75H810.03zM827.87 72H829.49V75H827.87zM831.11 72H832.73V75H831.11zM840.84 72H842.46V75H840.84zM844.09 72H845.71V75H844.09zM853.82 72H855.44V75H853.82zM865.17 72H866.79V75H865.17zM884.63 72H886.26V75H884.63z"/>
<path fill="#c8dcdc" d="M544.03 41H545.65V44H544.03zM610.53 41H612.15V44H610.53zM678.65 41H680.27V44H678.65zM762.99 41H764.61V44H762.99zM863.55 41H865.17V44H863.55zM878.15 41H879.77V44H878.15zM860.31 44H861.93V47H860.31zM879.77 50H881.39V52H879.77zM535.92 55H540.79V58H535.92zM542.41 55H544.03V58H542.41zM553.76 55H560.25V58H553.76zM561.87 55H563.49V58H561.87zM568.36 55H569.98V58H568.36zM571.6 55H573.23V58H571.6zM584.58 55H586.2V58H584.58zM591.07 55H592.69V58H591.07zM594.31 55H597.55V58H594.31zM599.18 55H600.8V58H599.18zM602.42 55H605.66V58H602.42zM610.53 55H612.15V58H610.53zM615.4 55H620.26V58H615.4zM628.37 55H629.99V58H628.37zM641.35 55H642.97V58H641.35zM647.83 55H649.46V58H647.83zM652.7 55H660.81V58H652.7zM662.43 55H665.68V58H662.43zM672.16 55H677.03V58H672.16zM681.89 55H685.14V58H681.89zM686.76 55H688.38V58H686.76zM699.74 55H701.36V58H699.74zM704.6 55H706.22V58H704.6zM707.85 55H709.47V58H707.85zM711.09 55H712.71V58H711.09zM714.33 55H720.82V58H714.33zM724.06 55H725.69V58H724.06zM728.93 55H730.55V58H728.93zM737.04 55H738.66V58H737.04zM740.28 55H745.15V58H740.28zM754.88 55H759.75V58H754.88zM761.37 55H764.61V58H761.37zM766.23 55H767.86V58H766.23zM769.48 55H771.1V58H769.48zM777.59 55H779.21V58H777.59zM780.83 55H782.45V58H780.83zM788.94 55H795.43V58H788.94zM798.67 55H801.92V58H798.67zM816.51 55H818.14V58H816.51zM823 55H826.25V58H823zM829.49 55H832.73V58H829.49zM834.35 55H835.98V58H834.35zM839.22 55H840.84V58H839.22zM844.09 55H848.95V58H844.09zM857.06 55H858.68V58H857.06zM865.17 55H866.79V58H865.17zM534.3 58H535.92V61H534.3zM555.38 58H557.01V61H555.38zM701.36 58H702.98V61H701.36zM725.69 58H727.31V61H725.69zM863.55 58H865.17V61H863.55zM868.42 58H871.66V61H868.42zM863.55 70H865.17V72H863.55zM873.28 72H874.9V75H873.28z"/>
<path fill="#ccdcdc" d="M548.9 41H550.52V44H548.9zM552.14 41H553.76V44H552.14zM602.42 41H604.04V44H602.42zM698.11 41H699.74V44H698.11zM704.6 41H706.22V44H704.6zM725.69 41H727.31V44H725.69zM821.38 41H823V44H821.38zM566.74 55H568.36V58H566.74zM576.47 55H578.09V58H576.47zM639.72 55H641.35V58H639.72zM690 55H691.63V58H690zM696.49 55H698.11V58H696.49zM730.55 55H732.17V58H730.55zM753.26 55H754.88V58H753.26zM759.75 55H761.37V58H759.75zM795.43 55H797.05V58H795.43zM818.14 55H819.76V58H818.14zM858.68 55H860.31V58H858.68zM866.79 55H870.04V58H866.79zM887.88 55H889.5V58H887.88zM544.03 58H545.65V61H544.03zM548.9 58H550.52V61H548.9zM571.6 58H573.23V61H571.6zM638.1 58H639.72V61H638.1zM646.21 58H647.83V61H646.21zM722.44 58H724.06V61H722.44zM827.87 58H829.49V61H827.87zM623.51 70H625.13V72H623.51zM725.69 70H727.31V72H725.69zM873.28 70H874.9V72H873.28z"/>
<path fill="#d0e4e4" d="M550.52 41H552.14V44H550.52zM555.38 41H558.63V44H555.38zM587.82 41H589.45V44H587.82zM592.69 41H594.31V44H592.69zM621.88 41H623.51V44H621.88zM625.13 41H626.75V44H625.13zM631.62 41H633.24V44H631.62zM655.94 41H657.57V44H655.94zM662.43 41H664.05V44H662.43zM670.54 41H672.16V44H670.54zM673.78 41H675.41V44H673.78zM686.76 41H688.38V44H686.76zM696.49 41H698.11V44H696.49zM701.36 41H702.98V44H701.36zM706.22 41H707.85V44H706.22zM709.47 41H711.09V44H709.47zM712.71 41H714.33V44H712.71zM732.17 41H733.8V44H732.17zM751.64 41H753.26V44H751.64zM756.5 41H759.75V44H756.5zM766.23 41H767.86V44H766.23zM774.34 41H775.97V44H774.34zM777.59 41H779.21V44H777.59zM788.94 41H790.56V44H788.94zM797.05 41H800.29V44H797.05zM806.78 41H808.4V44H806.78zM814.89 41H816.51V44H814.89zM819.76 41H821.38V44H819.76zM835.98 41H837.6V44H835.98zM842.46 41H844.09V44H842.46zM855.44 41H857.06V44H855.44zM868.42 41H870.04V44H868.42zM860.31 55H861.93V58H860.31zM537.54 58H539.17V61H537.54zM563.49 58H565.12V61H563.49zM568.36 58H569.98V61H568.36zM579.71 58H582.96V61H579.71zM595.93 58H599.18V61H595.93zM602.42 58H605.66V61H602.42zM615.4 58H617.02V61H615.4zM618.64 58H620.26V61H618.64zM639.72 58H641.35V61H639.72zM647.83 58H652.7V61H647.83zM654.32 58H655.94V61H654.32zM660.81 58H662.43V61H660.81zM678.65 58H681.89V61H678.65zM694.87 58H696.49V61H694.87zM699.74 58H701.36V61H699.74zM704.6 58H706.22V61H704.6zM707.85 58H711.09V61H707.85zM717.58 58H719.2V61H717.58zM720.82 58H722.44V61H720.82zM724.06 58H725.69V61H724.06zM737.04 58H738.66V61H737.04zM740.28 58H741.91V61H740.28zM750.02 58H751.64V61H750.02zM753.26 58H754.88V61H753.26zM780.83 58H782.45V61H780.83zM784.08 58H787.32V61H784.08zM801.92 58H805.16V61H801.92zM819.76 58H821.38V61H819.76zM824.62 58H826.25V61H824.62zM829.49 58H831.11V61H829.49zM848.95 58H850.57V61H848.95zM852.2 58H853.82V61H852.2zM865.17 58H866.79V61H865.17zM535.92 70H539.17V72H535.92zM566.74 70H568.36V72H566.74zM579.71 70H581.34V72H579.71zM589.45 70H591.07V72H589.45zM594.31 70H595.93V72H594.31zM602.42 70H604.04V72H602.42zM620.26 70H621.88V72H620.26zM626.75 70H628.37V72H626.75zM631.62 70H633.24V72H631.62zM634.86 70H636.48V72H634.86zM664.05 70H665.68V72H664.05zM668.92 70H670.54V72H668.92zM673.78 70H675.41V72H673.78zM722.44 70H724.06V72H722.44zM750.02 70H751.64V72H750.02zM805.16 70H806.78V72H805.16zM827.87 70H829.49V72H827.87zM837.6 70H842.46V72H837.6zM539.17 72H540.79V75H539.17zM542.41 72H544.03V75H542.41zM548.9 72H550.52V75H548.9zM578.09 72H579.71V75H578.09zM589.45 72H591.07V75H589.45zM594.31 72H595.93V75H594.31zM599.18 72H602.42V75H599.18zM605.66 72H607.29V75H605.66zM618.64 72H620.26V75H618.64zM623.51 72H628.37V75H623.51zM631.62 72H633.24V75H631.62zM636.48 72H638.1V75H636.48zM642.97 72H644.59V75H642.97zM654.32 72H655.94V75H654.32zM662.43 72H664.05V75H662.43zM667.3 72H668.92V75H667.3zM678.65 72H680.27V75H678.65zM722.44 72H725.69V75H722.44zM759.75 72H761.37V75H759.75zM772.72 72H774.34V75H772.72zM784.08 72H785.7V75H784.08zM787.32 72H792.18V75H787.32zM793.81 72H795.43V75H793.81zM800.29 72H801.92V75H800.29zM855.44 72H857.06V75H855.44zM878.15 72H879.77V75H878.15z"/>
<path fill="#b8d0d0" d="M884.63 41H886.26V44H884.63zM537.54 44H539.17V47H537.54zM542.41 44H547.28V47H542.41zM548.9 44H550.52V47H548.9zM578.09 44H579.71V47H578.09zM602.42 44H604.04V47H602.42zM633.24 44H634.86V47H633.24zM638.1 44H639.72V47H638.1zM659.19 44H660.81V47H659.19zM665.68 44H667.3V47H665.68zM681.89 44H683.52V47H681.89zM722.44 44H725.69V47H722.44zM751.64 44H753.26V47H751.64zM805.16 44H806.78V47H805.16zM814.89 44H816.51V47H814.89zM821.38 44H823V47H821.38zM855.44 44H857.06V47H855.44zM858.68 44H860.31V47H858.68zM863.55 44H865.17V47H863.55zM719.2 52H720.82V55H719.2zM730.55 52H732.17V55H730.55zM741.91 52H743.53V55H741.91zM750.02 52H751.64V55H750.02zM798.67 52H801.92V55H798.67zM832.73 52H834.35V55H832.73zM839.22 52H840.84V55H839.22zM848.95 52H850.57V55H848.95zM870.04 52H871.66V55H870.04zM874.9 52H876.52V55H874.9zM881.39 52H883.01V55H881.39zM886.26 52H887.88V55H886.26z"/>
<path fill="#bcd4d4" d="M534.3 44H537.54V47H534.3zM539.17 44H542.41V47H539.17zM547.28 44H548.9V47H547.28zM550.52 44H561.87V47H550.52zM563.49 44H566.74V47H563.49zM568.36 44H569.98V47H568.36zM571.6 44H574.85V47H571.6zM576.47 44H578.09V47H576.47zM581.34 44H584.58V47H581.34zM586.2 44H592.69V47H586.2zM594.31 44H600.8V47H594.31zM604.04 44H605.66V47H604.04zM607.29 44H610.53V47H607.29zM612.15 44H613.77V47H612.15zM617.02 44H625.13V47H617.02zM629.99 44H631.62V47H629.99zM639.72 44H641.35V47H639.72zM644.59 44H647.83V47H644.59zM649.46 44H652.7V47H649.46zM655.94 44H657.57V47H655.94zM660.81 44H665.68V47H660.81zM667.3 44H668.92V47H667.3zM670.54 44H681.89V47H670.54zM685.14 44H686.76V47H685.14zM690 44H693.25V47H690zM694.87 44H699.74V47H694.87zM701.36 44H709.47V47H701.36zM712.71 44H714.33V47H712.71zM715.95 44H717.58V47H715.95zM720.82 44H722.44V47H720.82zM727.31 44H730.55V47H727.31zM732.17 44H738.66V47H732.17zM741.91 44H743.53V47H741.91zM745.15 44H750.02V47H745.15zM758.12 44H762.99V47H758.12zM764.61 44H766.23V47H764.61zM767.86 44H769.48V47H767.86zM771.1 44H775.97V47H771.1zM777.59 44H779.21V47H777.59zM782.45 44H784.08V47H782.45zM785.7 44H792.18V47H785.7zM801.92 44H805.16V47H801.92zM810.03 44H814.89V47H810.03zM818.14 44H821.38V47H818.14zM827.87 44H829.49V47H827.87zM835.98 44H840.84V47H835.98zM844.09 44H845.71V47H844.09zM847.33 44H848.95V47H847.33zM866.79 44H868.42V47H866.79zM871.66 44H873.28V47H871.66zM876.52 44H878.15V47H876.52zM857.06 52H858.68V55H857.06zM873.28 58H874.9V61H873.28z"/>
<path fill="#c0d4d4" d="M561.87 44H563.49V47H561.87zM584.58 44H586.2V47H584.58zM605.66 44H607.29V47H605.66zM613.77 44H615.4V47H613.77zM626.75 44H628.37V47H626.75zM652.7 44H654.32V47H652.7zM686.76 44H688.38V47H686.76zM699.74 44H701.36V47H699.74zM717.58 44H719.2V47H717.58zM730.55 44H732.17V47H730.55zM753.26 44H754.88V47H753.26zM756.5 44H758.12V47H756.5zM775.97 44H777.59V47H775.97zM779.21 44H782.45V47H779.21zM784.08 44H785.7V47H784.08zM792.18 44H793.81V47H792.18zM795.43 44H797.05V47H795.43zM806.78 44H808.4V47H806.78zM816.51 44H818.14V47H816.51zM826.25 44H827.87V47H826.25zM829.49 44H834.35V47H829.49zM842.46 44H844.09V47H842.46zM845.71 44H847.33V47H845.71zM868.42 44H870.04V47H868.42zM874.9 44H876.52V47H874.9zM725.69 55H727.31V58H725.69zM797.05 55H798.67V58H797.05zM848.95 55H850.57V58H848.95z"/>
<path fill="#b8d4d4" d="M566.74 44H568.36V47H566.74zM569.98 44H571.6V47H569.98zM592.69 44H594.31V47H592.69zM600.8 44H602.42V47H600.8zM628.37 44H629.99V47H628.37zM634.86 44H638.1V47H634.86zM641.35 44H644.59V47H641.35zM657.57 44H659.19V47H657.57zM668.92 44H670.54V47H668.92zM683.52 44H685.14V47H683.52zM711.09 44H712.71V47H711.09zM750.02 44H751.64V47H750.02zM754.88 44H756.5V47H754.88zM834.35 44H835.98V47H834.35zM857.06 44H858.68V47H857.06zM865.17 44H866.79V47H865.17zM696.49 52H698.11V55H696.49zM737.04 52H738.66V55H737.04zM873.28 55H874.9V58H873.28z"/>
<path fill="#c0d8d8" d="M574.85 44H576.47V47H574.85zM579.71 44H581.34V47H579.71zM615.4 44H617.02V47H615.4zM625.13 44H626.75V47H625.13zM647.83 44H649.46V47H647.83zM654.32 44H655.94V47H654.32zM688.38 44H690V47H688.38zM709.47 44H711.09V47H709.47zM714.33 44H715.95V47H714.33zM719.2 44H720.82V47H719.2zM738.66 44H741.91V47H738.66zM743.53 44H745.15V47H743.53zM762.99 44H764.61V47H762.99zM769.48 44H771.1V47H769.48zM793.81 44H795.43V47H793.81zM798.67 44H801.92V47H798.67zM824.62 44H826.25V47H824.62zM840.84 44H842.46V47H840.84zM848.95 44H850.57V47H848.95zM853.82 44H855.44V47H853.82zM860.31 52H861.93V55H860.31zM887.88 52H889.5V55H887.88zM544.03 55H545.65V58H544.03zM578.09 55H579.71V58H578.09zM581.34 55H582.96V58H581.34zM589.45 55H591.07V58H589.45zM597.55 55H599.18V58H597.55zM600.8 55H602.42V58H600.8zM612.15 55H613.77V58H612.15zM633.24 55H634.86V58H633.24zM636.48 55H638.1V58H636.48zM644.59 55H646.21V58H644.59zM668.92 55H670.54V58H668.92zM678.65 55H680.27V58H678.65zM720.82 55H724.06V58H720.82zM735.42 55H737.04V58H735.42zM751.64 55H753.26V58H751.64zM764.61 55H766.23V58H764.61zM779.21 55H780.83V58H779.21zM811.65 55H816.51V58H811.65zM884.63 55H886.26V58H884.63zM863.55 72H865.17V75H863.55z"/>
<path fill="#b4d0d0" d="M610.53 44H612.15V47H610.53zM631.62 44H633.24V47H631.62zM725.69 44H727.31V47H725.69zM881.39 44H883.01V47H881.39zM884.63 44H886.26V47H884.63zM860.31 47H861.93V50H860.31zM874.9 50H876.52V52H874.9zM550.52 52H552.14V55H550.52zM558.63 52H560.25V55H558.63zM629.99 52H631.62V55H629.99zM641.35 52H642.97V55H641.35zM647.83 52H649.46V55H647.83zM672.16 52H673.78V55H672.16zM678.65 52H680.27V55H678.65zM683.52 52H685.14V55H683.52zM691.63 52H693.25V55H691.63zM699.74 52H701.36V55H699.74zM709.47 52H711.09V55H709.47zM717.58 52H719.2V55H717.58zM728.93 52H730.55V55H728.93zM738.66 52H740.28V55H738.66zM745.15 52H746.77V55H745.15zM751.64 52H754.88V55H751.64zM766.23 52H769.48V55H766.23zM772.72 52H774.34V55H772.72zM780.83 52H782.45V55H780.83zM784.08 52H785.7V55H784.08zM787.32 52H788.94V55H787.32zM792.18 52H797.05V55H792.18zM813.27 52H814.89V55H813.27zM818.14 52H821.38V55H818.14zM823 52H826.25V55H823zM827.87 52H832.73V55H827.87zM834.35 52H835.98V55H834.35zM842.46 52H844.09V55H842.46zM853.82 52H855.44V55H853.82zM861.93 52H863.55V55H861.93zM871.66 52H873.28V55H871.66zM876.52 52H879.77V55H876.52zM884.63 70H886.26V72H884.63z"/>
<path fill="#c4d8d8" d="M693.25 44H694.87V47H693.25zM766.23 44H767.86V47H766.23zM797.05 44H798.67V47H797.05zM808.4 44H810.03V47H808.4zM823 44H824.62V47H823zM870.04 44H871.66V47H870.04zM534.3 55H535.92V58H534.3zM540.79 55H542.41V58H540.79zM545.65 55H547.28V58H545.65zM548.9 55H553.76V58H548.9zM560.25 55H561.87V58H560.25zM565.12 55H566.74V58H565.12zM569.98 55H571.6V58H569.98zM573.23 55H576.47V58H573.23zM582.96 55H584.58V58H582.96zM586.2 55H589.45V58H586.2zM592.69 55H594.31V58H592.69zM605.66 55H607.29V58H605.66zM613.77 55H615.4V58H613.77zM620.26 55H621.88V58H620.26zM625.13 55H628.37V58H625.13zM631.62 55H633.24V58H631.62zM638.1 55H639.72V58H638.1zM646.21 55H647.83V58H646.21zM651.08 55H652.7V58H651.08zM665.68 55H668.92V58H665.68zM680.27 55H681.89V58H680.27zM685.14 55H686.76V58H685.14zM694.87 55H696.49V58H694.87zM698.11 55H699.74V58H698.11zM701.36 55H702.98V58H701.36zM709.47 55H711.09V58H709.47zM727.31 55H728.93V58H727.31zM732.17 55H733.8V58H732.17zM745.15 55H748.39V58H745.15zM771.1 55H772.72V58H771.1zM775.97 55H777.59V58H775.97zM801.92 55H806.78V58H801.92zM810.03 55H811.65V58H810.03zM821.38 55H823V58H821.38zM826.25 55H829.49V58H826.25zM837.6 55H839.22V58H837.6zM842.46 55H844.09V58H842.46zM855.44 55H857.06V58H855.44zM878.15 55H879.77V58H878.15z"/>
<path fill="#a0c0c0" d="M850.57 44H852.2V47H850.57zM699.74 47H701.36V50H699.74zM715.95 47H717.58V50H715.95zM719.2 47H720.82V50H719.2zM730.55 47H732.17V50H730.55zM766.23 47H767.86V50H766.23zM771.1 47H772.72V50H771.1zM793.81 47H797.05V50H793.81zM800.29 47H801.92V50H800.29zM819.76 47H821.38V50H819.76zM831.11 47H832.73V50H831.11zM842.46 47H845.71V50H842.46zM848.95 47H850.57V50H848.95zM853.82 47H855.44V50H853.82zM868.42 47H870.04V50H868.42zM879.77 47H881.39V50H879.77zM651.08 50H652.7V52H651.08zM672.16 50H673.78V52H672.16zM690 50H691.63V52H690zM696.49 50H698.11V52H696.49zM704.6 50H706.22V52H704.6zM709.47 50H711.09V52H709.47zM712.71 50H715.95V52H712.71zM727.31 50H728.93V52H727.31zM741.91 50H743.53V52H741.91zM750.02 50H753.26V52H750.02zM756.5 50H758.12V52H756.5zM759.75 50H761.37V52H759.75zM766.23 50H767.86V52H766.23zM772.72 50H774.34V52H772.72zM780.83 50H782.45V52H780.83zM784.08 50H785.7V52H784.08zM787.32 50H790.56V52H787.32zM793.81 50H795.43V52H793.81zM801.92 50H803.54V52H801.92zM824.62 50H826.25V52H824.62zM827.87 50H829.49V52H827.87zM840.84 50H842.46V52H840.84zM853.82 50H855.44V52H853.82zM870.04 50H873.28V52H870.04zM886.26 50H887.88V52H886.26z"/>
<path fill="#9cb8bc" d="M852.2 44H853.82V47H852.2zM657.57 47H659.19V50H657.57zM660.81 47H662.43V50H660.81zM675.41 47H677.03V50H675.41zM690 47H693.25V50H690zM704.6 47H706.22V50H704.6zM709.47 47H711.09V50H709.47zM712.71 47H714.33V50H712.71zM741.91 47H743.53V50H741.91zM753.26 47H754.88V50H753.26zM756.5 47H758.12V50H756.5zM759.75 47H761.37V50H759.75zM764.61 47H766.23V50H764.61zM767.86 47H769.48V50H767.86zM782.45 47H785.7V50H782.45zM797.05 47H798.67V50H797.05zM805.16 47H806.78V50H805.16zM811.65 47H813.27V50H811.65zM818.14 47H819.76V50H818.14zM834.35 47H835.98V50H834.35zM839.22 47H840.84V50H839.22zM861.93 47H863.55V50H861.93zM871.66 47H873.28V50H871.66zM876.52 47H878.15V50H876.52zM881.39 47H884.63V50H881.39zM568.36 50H569.98V52H568.36zM576.47 50H578.09V52H576.47zM579.71 50H581.34V52H579.71zM592.69 50H594.31V52H592.69zM595.93 50H597.55V52H595.93zM605.66 50H607.29V52H605.66zM615.4 50H617.02V52H615.4zM618.64 50H620.26V52H618.64zM625.13 50H626.75V52H625.13zM629.99 50H631.62V52H629.99zM638.1 50H639.72V52H638.1zM642.97 50H644.59V52H642.97zM652.7 50H654.32V52H652.7zM665.68 50H668.92V52H665.68zM678.65 50H680.27V52H678.65zM683.52 50H685.14V52H683.52zM702.98 50H704.6V52H702.98zM706.22 50H709.47V52H706.22zM711.09 50H712.71V52H711.09zM717.58 50H719.2V52H717.58zM733.8 50H737.04V52H733.8zM745.15 50H746.77V52H745.15zM748.39 50H750.02V52H748.39zM758.12 50H759.75V52H758.12zM813.27 50H814.89V52H813.27zM858.68 50H860.31V52H858.68z"/>
<path fill="#b0cccc" d="M861.93 44H863.55V47H861.93zM861.93 50H863.55V52H861.93zM883.01 50H884.63V52H883.01zM553.76 52H555.38V55H553.76zM560.25 52H565.12V55H560.25zM568.36 52H569.98V55H568.36zM573.23 52H574.85V55H573.23zM576.47 52H578.09V55H576.47zM579.71 52H581.34V55H579.71zM586.2 52H589.45V55H586.2zM592.69 52H594.31V55H592.69zM604.04 52H607.29V55H604.04zM610.53 52H612.15V55H610.53zM613.77 52H618.64V55H613.77zM621.88 52H626.75V55H621.88zM628.37 52H629.99V55H628.37zM636.48 52H641.35V55H636.48zM642.97 52H647.83V55H642.97zM649.46 52H654.32V55H649.46zM655.94 52H657.57V55H655.94zM659.19 52H660.81V55H659.19zM662.43 52H668.92V55H662.43zM673.78 52H677.03V55H673.78zM681.89 52H683.52V55H681.89zM685.14 52H691.63V55H685.14zM693.25 52H694.87V55H693.25zM701.36 52H706.22V55H701.36zM711.09 52H714.33V55H711.09zM715.95 52H717.58V55H715.95zM722.44 52H724.06V55H722.44zM727.31 52H728.93V55H727.31zM733.8 52H735.42V55H733.8zM746.77 52H750.02V55H746.77zM759.75 52H761.37V55H759.75zM771.1 52H772.72V55H771.1zM774.34 52H775.97V55H774.34zM777.59 52H780.83V55H777.59zM785.7 52H787.32V55H785.7zM788.94 52H792.18V55H788.94zM797.05 52H798.67V55H797.05zM801.92 52H805.16V55H801.92zM806.78 52H808.4V55H806.78zM810.03 52H813.27V55H810.03zM821.38 52H823V55H821.38zM835.98 52H839.22V55H835.98zM840.84 52H842.46V55H840.84zM844.09 52H847.33V55H844.09zM855.44 52H857.06V55H855.44zM858.68 52H860.31V55H858.68zM865.17 52H866.79V55H865.17z"/>
<path fill="#acc8c8" d="M873.28 44H874.9V47H873.28zM857.06 47H858.68V50H857.06zM693.25 50H694.87V52H693.25zM719.2 50H720.82V52H719.2zM762.99 50H764.61V52H762.99zM818.14 50H819.76V52H818.14zM832.73 50H834.35V52H832.73zM848.95 50H850.57V52H848.95zM855.44 50H857.06V52H855.44zM534.3 52H537.54V55H534.3zM542.41 52H548.9V55H542.41zM552.14 52H553.76V55H552.14zM565.12 52H566.74V55H565.12zM569.98 52H571.6V55H569.98zM582.96 52H586.2V55H582.96zM589.45 52H591.07V55H589.45zM594.31 52H597.55V55H594.31zM602.42 52H604.04V55H602.42zM607.29 52H608.91V55H607.29zM631.62 52H634.86V55H631.62zM668.92 52H670.54V55H668.92zM725.69 52H727.31V55H725.69zM735.42 52H737.04V55H735.42zM814.89 52H816.51V55H814.89zM863.55 52H865.17V55H863.55zM873.28 52H874.9V55H873.28z"/>
<path fill="#c4dcdc" d="M878.15 44H879.77V47H878.15zM879.77 52H881.39V55H879.77zM547.28 55H548.9V58H547.28zM563.49 55H565.12V58H563.49zM579.71 55H581.34V58H579.71zM607.29 55H610.53V58H607.29zM623.51 55H625.13V58H623.51zM634.86 55H636.48V58H634.86zM642.97 55H644.59V58H642.97zM649.46 55H651.08V58H649.46zM660.81 55H662.43V58H660.81zM677.03 55H678.65V58H677.03zM693.25 55H694.87V58H693.25zM702.98 55H704.6V58H702.98zM706.22 55H707.85V58H706.22zM712.71 55H714.33V58H712.71zM733.8 55H735.42V58H733.8zM738.66 55H740.28V58H738.66zM748.39 55H751.64V58H748.39zM767.86 55H769.48V58H767.86zM772.72 55H775.97V58H772.72zM782.45 55H788.94V58H782.45zM806.78 55H808.4V58H806.78zM819.76 55H821.38V58H819.76zM835.98 55H837.6V58H835.98zM840.84 55H842.46V58H840.84zM850.57 55H853.82V58H850.57zM861.93 55H863.55V58H861.93z"/>
<path fill="#b4d0cc" d="M883.01 44H884.63V47H883.01zM591.07 52H592.69V55H591.07zM600.8 52H602.42V55H600.8zM608.91 52H610.53V55H608.91zM618.64 52H620.26V55H618.64zM654.32 52H655.94V55H654.32zM660.81 52H662.43V55H660.81zM670.54 52H672.16V55H670.54zM680.27 52H681.89V55H680.27zM694.87 52H696.49V55H694.87zM698.11 52H699.74V55H698.11zM707.85 52H709.47V55H707.85zM714.33 52H715.95V55H714.33zM720.82 52H722.44V55H720.82zM732.17 52H733.8V55H732.17zM740.28 52H741.91V55H740.28zM743.53 52H745.15V55H743.53zM754.88 52H759.75V55H754.88zM761.37 52H766.23V55H761.37zM769.48 52H771.1V55H769.48zM775.97 52H777.59V55H775.97zM782.45 52H784.08V55H782.45zM805.16 52H806.78V55H805.16zM808.4 52H810.03V55H808.4zM826.25 52H827.87V55H826.25zM847.33 52H848.95V55H847.33z"/>
<path fill="#8094a0" d="M534.3 47H535.92V50H534.3z"/>
<path fill="#889ca8" d="M535.92 47H537.54V50H535.92zM544.03 47H545.65V50H544.03zM547.28 47H548.9V50H547.28z"/>
<path fill="#8498a4" d="M537.54 47H539.17V50H537.54zM548.9 47H550.52V50H548.9z"/>
<path fill="#88a0a8" d="M539.17 47H540.79V50H539.17zM534.3 50H535.92V52H534.3z"/>
<path fill="#8ca4ac" d="M540.79 47H542.41V50H540.79zM569.98 47H573.23V50H569.98zM582.96 47H584.58V50H582.96zM544.03 50H547.28V52H544.03zM548.9 50H550.52V52H548.9z"/>
<path fill="#90a8b0" d="M542.41 47H544.03V50H542.41zM545.65 47H547.28V50H545.65zM553.76 47H555.38V50H553.76zM561.87 47H565.12V50H561.87zM568.36 47H569.98V50H568.36zM576.47 47H581.34V50H576.47zM589.45 47H591.07V50H589.45zM592.69 47H595.93V50H592.69zM610.53 47H613.77V50H610.53zM633.24 47H634.86V50H633.24zM649.46 47H651.08V50H649.46zM681.89 47H683.52V50H681.89zM540.79 50H542.41V52H540.79zM552.14 50H553.76V52H552.14z"/>
<path fill="#8ca0ac" d="M550.52 47H552.14V50H550.52zM555.38 47H558.63V50H555.38zM565.12 47H568.36V50H565.12zM573.23 47H574.85V50H573.23z"/>
<path fill="#90a4b0" d="M552.14 47H553.76V50H552.14zM581.34 47H582.96V50H581.34zM586.2 47H587.82V50H586.2zM618.64 47H620.26V50H618.64zM623.51 47H625.13V50H623.51zM571.6 50H573.23V52H571.6z"/>
<path fill="#98b0b8" d="M558.63 47H560.25V50H558.63zM584.58 47H586.2V50H584.58zM615.4 47H617.02V50H615.4zM621.88 47H623.51V50H621.88zM626.75 47H628.37V50H626.75zM651.08 47H652.7V50H651.08zM664.05 47H665.68V50H664.05zM677.03 47H678.65V50H677.03zM680.27 47H681.89V50H680.27zM724.06 47H725.69V50H724.06zM727.31 47H728.93V50H727.31zM735.42 47H737.04V50H735.42zM751.64 47H753.26V50H751.64zM772.72 47H774.34V50H772.72zM863.55 47H865.17V50H863.55zM866.79 47H868.42V50H866.79zM873.28 47H874.9V50H873.28zM542.41 50H544.03V52H542.41zM547.28 50H548.9V52H547.28zM560.25 50H561.87V52H560.25zM566.74 50H568.36V52H566.74zM574.85 50H576.47V52H574.85zM581.34 50H582.96V52H581.34zM586.2 50H587.82V52H586.2zM597.55 50H599.18V52H597.55zM610.53 50H613.77V52H610.53zM633.24 50H634.86V52H633.24zM639.72 50H642.97V52H639.72zM677.03 50H678.65V52H677.03z"/>
<path fill="#94acb4" d="M560.25 47H561.87V50H560.25zM574.85 47H576.47V50H574.85zM597.55 47H599.18V50H597.55zM600.8 47H604.04V50H600.8zM605.66 47H608.91V50H605.66zM617.02 47H618.64V50H617.02zM625.13 47H626.75V50H625.13zM629.99 47H633.24V50H629.99zM634.86 47H638.1V50H634.86zM639.72 47H641.35V50H639.72zM652.7 47H654.32V50H652.7zM672.16 47H675.41V50H672.16zM685.14 47H686.76V50H685.14zM688.38 47H690V50H688.38zM698.11 47H699.74V50H698.11zM702.98 47H704.6V50H702.98zM714.33 47H715.95V50H714.33zM725.69 47H727.31V50H725.69zM779.21 47H780.83V50H779.21zM810.03 47H811.65V50H810.03zM884.63 47H886.26V50H884.63zM535.92 50H537.54V52H535.92zM539.17 50H540.79V52H539.17zM553.76 50H555.38V52H553.76zM569.98 50H571.6V52H569.98zM600.8 50H604.04V52H600.8zM634.86 50H636.48V52H634.86zM662.43 50H664.05V52H662.43zM884.63 50H886.26V52H884.63z"/>
<path fill="#94acb0" d="M587.82 47H589.45V50H587.82zM591.07 47H592.69V50H591.07zM599.18 47H600.8V50H599.18zM604.04 47H605.66V50H604.04zM537.54 50H539.17V52H537.54zM565.12 50H566.74V52H565.12z"/>
<path fill="#98b4b8" d="M595.93 47H597.55V50H595.93zM620.26 47H621.88V50H620.26zM628.37 47H629.99V50H628.37zM644.59 47H649.46V50H644.59zM654.32 47H655.94V50H654.32zM662.43 47H664.05V50H662.43zM665.68 47H668.92V50H665.68zM670.54 47H672.16V50H670.54zM683.52 47H685.14V50H683.52zM693.25 47H694.87V50H693.25zM701.36 47H702.98V50H701.36zM706.22 47H709.47V50H706.22zM711.09 47H712.71V50H711.09zM720.82 47H724.06V50H720.82zM732.17 47H735.42V50H732.17zM738.66 47H740.28V50H738.66zM754.88 47H756.5V50H754.88zM762.99 47H764.61V50H762.99zM775.97 47H777.59V50H775.97zM787.32 47H788.94V50H787.32zM803.54 47H805.16V50H803.54zM821.38 47H823V50H821.38zM826.25 47H827.87V50H826.25zM829.49 47H831.11V50H829.49zM832.73 47H834.35V50H832.73zM835.98 47H837.6V50H835.98zM845.71 47H847.33V50H845.71zM550.52 50H552.14V52H550.52zM555.38 50H560.25V52H555.38zM561.87 50H565.12V52H561.87zM573.23 50H574.85V52H573.23zM578.09 50H579.71V52H578.09zM582.96 50H586.2V52H582.96zM591.07 50H592.69V52H591.07zM594.31 50H595.93V52H594.31zM599.18 50H600.8V52H599.18zM604.04 50H605.66V52H604.04zM607.29 50H608.91V52H607.29zM613.77 50H615.4V52H613.77zM621.88 50H623.51V52H621.88zM631.62 50H633.24V52H631.62zM644.59 50H647.83V52H644.59zM659.19 50H660.81V52H659.19zM680.27 50H683.52V52H680.27zM803.54 50H805.16V52H803.54zM863.55 50H865.17V52H863.55z"/>
<path fill="#94b0b4" d="M608.91 47H610.53V50H608.91zM613.77 47H615.4V50H613.77zM638.1 47H639.72V50H638.1zM641.35 47H644.59V50H641.35zM655.94 47H657.57V50H655.94zM659.19 47H660.81V50H659.19zM668.92 47H670.54V50H668.92zM678.65 47H680.27V50H678.65zM686.76 47H688.38V50H686.76zM696.49 47H698.11V50H696.49zM748.39 47H750.02V50H748.39zM813.27 47H814.89V50H813.27zM589.45 50H591.07V52H589.45zM608.91 50H610.53V52H608.91zM626.75 50H628.37V52H626.75z"/>
<path fill="#9cbcbc" d="M694.87 47H696.49V50H694.87zM740.28 47H741.91V50H740.28zM777.59 47H779.21V50H777.59zM785.7 47H787.32V50H785.7zM790.56 47H792.18V50H790.56zM886.26 47H889.5V50H886.26zM620.26 50H621.88V52H620.26zM623.51 50H625.13V52H623.51zM636.48 50H638.1V52H636.48zM673.78 50H675.41V52H673.78zM699.74 50H701.36V52H699.74zM722.44 50H727.31V52H722.44zM738.66 50H740.28V52H738.66zM823 50H824.62V52H823zM837.6 50H839.22V52H837.6zM852.2 52H853.82V55H852.2z"/>
<path fill="#a0bcc0" d="M717.58 47H719.2V50H717.58zM728.93 47H730.55V50H728.93zM743.53 47H748.39V50H743.53zM750.02 47H751.64V50H750.02zM758.12 47H759.75V50H758.12zM769.48 47H771.1V50H769.48zM774.34 47H775.97V50H774.34zM788.94 47H790.56V50H788.94zM792.18 47H793.81V50H792.18zM798.67 47H800.29V50H798.67zM801.92 47H803.54V50H801.92zM806.78 47H808.4V50H806.78zM814.89 47H818.14V50H814.89zM823 47H824.62V50H823zM827.87 47H829.49V50H827.87zM837.6 47H839.22V50H837.6zM840.84 47H842.46V50H840.84zM847.33 47H848.95V50H847.33zM855.44 47H857.06V50H855.44zM865.17 47H866.79V50H865.17zM587.82 50H589.45V52H587.82zM617.02 50H618.64V52H617.02zM628.37 50H629.99V52H628.37zM647.83 50H649.46V52H647.83zM654.32 50H659.19V52H654.32zM660.81 50H662.43V52H660.81zM664.05 50H665.68V52H664.05zM668.92 50H670.54V52H668.92zM675.41 50H677.03V52H675.41zM686.76 50H690V52H686.76zM698.11 50H699.74V52H698.11zM701.36 50H702.98V52H701.36zM715.95 50H717.58V52H715.95zM720.82 50H722.44V52H720.82zM728.93 50H730.55V52H728.93zM746.77 50H748.39V52H746.77zM753.26 50H756.5V52H753.26zM767.86 50H769.48V52H767.86zM771.1 50H772.72V52H771.1zM775.97 50H777.59V52H775.97zM779.21 50H780.83V52H779.21zM790.56 50H792.18V52H790.56zM797.05 50H798.67V52H797.05zM805.16 50H808.4V52H805.16zM811.65 50H813.27V52H811.65zM814.89 50H818.14V52H814.89zM847.33 50H848.95V52H847.33zM865.17 50H870.04V52H865.17zM873.28 50H874.9V52H873.28zM878.15 50H879.77V52H878.15zM850.57 52H852.2V55H850.57z"/>
<path fill="#a4c0c4" d="M737.04 47H738.66V50H737.04zM780.83 47H782.45V50H780.83zM808.4 47H810.03V50H808.4zM649.46 50H651.08V52H649.46zM685.14 50H686.76V52H685.14zM774.34 50H775.97V52H774.34zM844.09 50H845.71V52H844.09z"/>
<path fill="#a4c4c4" d="M761.37 47H762.99V50H761.37zM824.62 47H826.25V50H824.62zM858.68 47H860.31V50H858.68zM870.04 47H871.66V50H870.04zM878.15 47H879.77V50H878.15zM670.54 50H672.16V52H670.54zM691.63 50H693.25V52H691.63zM732.17 50H733.8V52H732.17zM740.28 50H741.91V52H740.28zM743.53 50H745.15V52H743.53zM761.37 50H762.99V52H761.37zM782.45 50H784.08V52H782.45zM785.7 50H787.32V52H785.7zM795.43 50H797.05V52H795.43zM800.29 50H801.92V52H800.29zM808.4 50H811.65V52H808.4zM819.76 50H823V52H819.76zM831.11 50H832.73V52H831.11zM835.98 50H837.6V52H835.98zM839.22 50H840.84V52H839.22zM842.46 50H844.09V52H842.46zM857.06 50H858.68V52H857.06zM876.52 50H878.15V52H876.52zM881.39 50H883.01V52H881.39zM887.88 50H889.5V52H887.88z"/>
<path fill="#6c748c" d="M850.57 47H852.2V50H850.57z"/>
<path fill="#687088" d="M852.2 47H853.82V50H852.2zM850.57 50H852.2V52H850.57z"/>
<path fill="#a8c8c8" d="M874.9 47H876.52V50H874.9zM694.87 50H696.49V52H694.87zM730.55 50H732.17V52H730.55zM737.04 50H738.66V52H737.04zM764.61 50H766.23V52H764.61zM769.48 50H771.1V52H769.48zM777.59 50H779.21V52H777.59zM792.18 50H793.81V52H792.18zM798.67 50H800.29V52H798.67zM826.25 50H827.87V52H826.25zM829.49 50H831.11V52H829.49zM834.35 50H835.98V52H834.35zM845.71 50H847.33V52H845.71zM860.31 50H861.93V52H860.31zM537.54 52H542.41V55H537.54zM548.9 52H550.52V55H548.9zM574.85 52H576.47V55H574.85zM581.34 52H582.96V55H581.34zM599.18 52H600.8V55H599.18zM868.42 52H870.04V55H868.42zM883.01 52H886.26V55H883.01z"/>
<path fill="#687488" d="M852.2 50H853.82V52H852.2z"/>
<path fill="#accccc" d="M555.38 52H558.63V55H555.38zM566.74 52H568.36V55H566.74zM571.6 52H573.23V55H571.6zM578.09 52H579.71V55H578.09zM597.55 52H599.18V55H597.55zM612.15 52H613.77V55H612.15zM620.26 52H621.88V55H620.26zM626.75 52H628.37V55H626.75zM634.86 52H636.48V55H634.86zM657.57 52H659.19V55H657.57zM677.03 52H678.65V55H677.03zM706.22 52H707.85V55H706.22zM724.06 52H725.69V55H724.06zM816.51 52H818.14V55H816.51zM866.79 52H868.42V55H866.79z"/>
</g>
<g fill="none" stroke="#a9a3a3" stroke-width="1.1" stroke-dasharray="1.1 1.84">
<path d="M127.5 91.5V12.5"/>
<path d="M184.5 91.5V12.5"/>
<path d="M236.5 91.5V12.5"/>
<path d="M283.5 91.5V12.5"/>
<path d="M336.5 91.5V12.5"/>
<path d="M400.5 91.5V12.5"/>
<path d="M474.5 91.5V12.5"/>
<path d="M560.5 91.5V12.5"/>
<path d="M657.5 91.5V12.5"/>
<path d="M767.5 91.5V12.5"/>
<path d="M890.5 91.5V12.5"/>
<path d="M61.5 51.5H896.5"/>
</g>
<rect x="61.5" y="324.5" width="832.5" height="22" fill="#f8f8f8"/>
<g fill="none" stroke="#aaaaaa" stroke-width="1.1" stroke-dasharray="1.1 1.84">
<path d="M127.5 346.5V108.5"/>
<path d="M184.5 346.5V108.5"/>
<path d="M236.5 346.5V108.5"/>
<path d="M283.5 346.5V108.5"/>
<path d="M336.5 346.5V108.5"/>
<path d="M400.5 346.5V108.5"/>
<path d="M474.5 346.5V108.5"/>
<path d="M560.5 346.5V108.5"/>
<path d="M657.5 346.5V108.5"/>
<path d="M767.5 346.5V108.5"/>
<path d="M890.5 346.5V108.5"/>
<path d="M61.5 324.5H896.5"/>
<path d="M61.5 291.5H896.5"/>
<path d="M61.5 258.5H896.5"/>
<path d="M61.5 225.5H896.5"/>
<path d="M61.5 191.5H896.5"/>
<path d="M61.5 158.5H896.5"/>
<path d="M61.5 125.5H896.5"/>
</g>
<clipPath id="c2"><rect x="61.5" y="108.5" width="835" height="238"/></clipPath>
<g clip-path="url(#c2)" fill="none" stroke-linejoin="miter" stroke-linecap="butt">
<rect x="89" y="100" width="4" height="31" fill="#c6c6c6" stroke="none"/>
<path stroke="#000" stroke-opacity="0.46" stroke-width="2.08" d="M67 352H67V168H69V249H71V352H73V171H74V136H77V139H78V189H80V209H81V275H83V258H85V221H87V178H90V132H92V238H93V149H95V217H97V147H99V224H103V165H104V224H106V198H108V210H109V201H112V208H114V204H116V207H117V192H119V214H120V233H122V184H124V149H125V148H127V204H129V197H131V229H133V219H136V246H137V218H140V199H143V213H145V207H146V213H148V209H150V218H152V229H153V207H156V211H159V190H161V182H163V208H165V203H167V204H170V217H172V213H173V217H175V213H177V224H179V216H181V225H184V220H185V215H187V219H188V215H191V192H193V187H195V194H196V175H200V164H202V167H203V169H205V170H207V168H213V168H214V175H217V169H222V178H223V186H224V174H226V171H228V162H231V175H231V199H235V196H237V205H239V196H241M532 265H535V274H536V278H538V274H540V281H542V276H545V281H547V274H549V284H552V279H553V275H555V277H558V283H560V282H562V278H563V282H565V280H568V279H570V283H572V282H575V285H578V282H580V285H583V283H584V278H587V281H588V286H591V283H592V287H596V284H597V283H599V285H601V283H605V285H607V286H609V284H611V276H614V282H615V285H618V283H620V284H623V286H625V283H627V287H629V284H633V288H636V280H640V282H642V285H644V287H645V289H647V285H650V285H653V284H656V283H659V288H661V292H665V289H667V287H670V288H672V289H675V285H678V291H681V288H682V286H684V282H688V287H690V285H692V291H695V288H697V284H699V285H700V284H702V287H704V285H707V288H710V290H712V291H714V289H716V288H718V286H719V292H721V292H723V294H725V292H728V288H731V292H733V287H735V296H736V293H737V290H741V289H745V292H748V294H750V290H752V292H756V289H759V294H760V289H764V292H766V293H768V295H772V290H775V292H777V298H778V289H780V290H781V291H785V291H788V294H791V297H794V295H797V295H799V297H803V298H805V292H806V300H808V293H810V295H813V297H815V297H817V296H819V291H821V298H824V296H827V295H829V293H832V299H835V296H837V299H839V302H842V298H844V292H846V295H847V287H849V249H851V268H853V293H855V300H857V299H860V302H862V298H864V295H867V301H869V298H872V316H873V300H874V300H876V296H878V291H880V303H882V292H883V304H886V299H887V300H888V328H891"/>
<path stroke="#f00" stroke-opacity="0.2" stroke-width="2.08" d="M67 100H67V204H69V219H71V249H73V238H76V257H79V260H80V265H82V275H86V277H88V268H90V275H94V289H96V284H97V290H99V291H100V292H103V294H106V298H111V300H113V303H118V305H120V306H123V303H126V308H131V311H136V310H140V312H148V313H150V313H153V312H155V315H157V315H161V314H165V315H168V316H176V315H178V317H179V318H182V317H186V319H200V320H205V319H209V319H212V320H216V319H218V320H227V321H236V320H238V319H241M533 321H535V322H560V322H569V322H632V322H637V322H677V321H680V322H733V321H736V322H741V321H744V322H763V321H767V322H777V321H781V322H812V321H817V321H821V322H829V321H833V322H837V321H840V322H845V321H853V322H862V321H864V320H869V320H872V318H874V317H876V316H878V319H882V317H883V316H888V302H891"/>
</g>
<g fill="none" stroke="#000">
<g stroke-width="1.1">
<rect x="61.5" y="12.5" width="835" height="79"/>
<rect x="61.5" y="108.5" width="835" height="238"/>
<path d="M127.5 12.5v-5M127.5 91.5v5M127.5 108.5v-5M127.5 346.5v5M184.5 12.5v-5M184.5 91.5v5M184.5 108.5v-5M184.5 346.5v5M236.5 12.5v-5M236.5 91.5v5M236.5 108.5v-5M236.5 346.5v5M283.5 12.5v-5M283.5 91.5v5M283.5 108.5v-5M283.5 346.5v5M336.5 12.5v-5M336.5 91.5v5M336.5 108.5v-5M336.5 346.5v5M400.5 12.5v-5M400.5 91.5v5M400.5 108.5v-5M400.5 346.5v5M474.5 12.5v-5M474.5 91.5v5M474.5 108.5v-5M474.5 346.5v5M560.5 12.5v-5M560.5 91.5v5M560.5 108.5v-5M560.5 346.5v5M657.5 12.5v-5M657.5 91.5v5M657.5 108.5v-5M657.5 346.5v5M767.5 12.5v-5M767.5 91.5v5M767.5 108.5v-5M767.5 346.5v5M890.5 12.5v-5M890.5 91.5v5M890.5 108.5v-5M890.5 346.5v5M61.5 51.5h-5M61.5 324.5h-5M61.5 291.5h-5M61.5 258.5h-5M61.5 225.5h-5M61.5 191.5h-5M61.5 158.5h-5M61.5 125.5h-5"/>
</g>
<path stroke-width="0.85" d="M92.5 12.5v-3M92.5 91.5v3M92.5 108.5v-3M92.5 346.5v3M152.5 12.5v-3M152.5 91.5v3M152.5 108.5v-3M152.5 346.5v3M170.5 12.5v-3M170.5 91.5v3M170.5 108.5v-3M170.5 346.5v3M196.5 12.5v-3M196.5 91.5v3M196.5 108.5v-3M196.5 346.5v3M207.5 12.5v-3M207.5 91.5v3M207.5 108.5v-3M207.5 346.5v3M217.5 12.5v-3M217.5 91.5v3M217.5 108.5v-3M217.5 346.5v3M227.5 12.5v-3M227.5 91.5v3M227.5 108.5v-3M227.5 346.5v3M245.5 12.5v-3M245.5 91.5v3M245.5 108.5v-3M245.5 346.5v3M254.5 12.5v-3M254.5 91.5v3M254.5 108.5v-3M254.5 346.5v3M263.5 12.5v-3M263.5 91.5v3M263.5 108.5v-3M263.5 346.5v3M273.5 12.5v-3M273.5 91.5v3M273.5 108.5v-3M273.5 346.5v3M293.5 12.5v-3M293.5 91.5v3M293.5 108.5v-3M293.5 346.5v3M303.5 12.5v-3M303.5 91.5v3M303.5 108.5v-3M303.5 346.5v3M314.5 12.5v-3M314.5 91.5v3M314.5 108.5v-3M314.5 346.5v3M325.5 12.5v-3M325.5 91.5v3M325.5 108.5v-3M325.5 346.5v3M348.5 12.5v-3M348.5 91.5v3M348.5 108.5v-3M348.5 346.5v3M360.5 12.5v-3M360.5 91.5v3M360.5 108.5v-3M360.5 346.5v3M373.5 12.5v-3M373.5 91.5v3M373.5 108.5v-3M373.5 346.5v3M386.5 12.5v-3M386.5 91.5v3M386.5 108.5v-3M386.5 346.5v3M414.5 12.5v-3M414.5 91.5v3M414.5 108.5v-3M414.5 346.5v3M428.5 12.5v-3M428.5 91.5v3M428.5 108.5v-3M428.5 346.5v3M443.5 12.5v-3M443.5 91.5v3M443.5 108.5v-3M443.5 346.5v3M458.5 12.5v-3M458.5 91.5v3M458.5 108.5v-3M458.5 346.5v3M490.5 12.5v-3M490.5 91.5v3M490.5 108.5v-3M490.5 346.5v3M507.5 12.5v-3M507.5 91.5v3M507.5 108.5v-3M507.5 346.5v3M524.5 12.5v-3M524.5 91.5v3M524.5 108.5v-3M524.5 346.5v3M541.5 12.5v-3M541.5 91.5v3M541.5 108.5v-3M541.5 346.5v3M578.5 12.5v-3M578.5 91.5v3M578.5 108.5v-3M578.5 346.5v3M597.5 12.5v-3M597.5 91.5v3M597.5 108.5v-3M597.5 346.5v3M617.5 12.5v-3M617.5 91.5v3M617.5 108.5v-3M617.5 346.5v3M637.5 12.5v-3M637.5 91.5v3M637.5 108.5v-3M637.5 346.5v3M678.5 12.5v-3M678.5 91.5v3M678.5 108.5v-3M678.5 346.5v3M700.5 12.5v-3M700.5 91.5v3M700.5 108.5v-3M700.5 346.5v3M722.5 12.5v-3M722.5 91.5v3M722.5 108.5v-3M722.5 346.5v3M744.5 12.5v-3M744.5 91.5v3M744.5 108.5v-3M744.5 346.5v3M791.5 12.5v-3M791.5 91.5v3M791.5 108.5v-3M791.5 346.5v3M815.5 12.5v-3M815.5 91.5v3M815.5 108.5v-3M815.5 346.5v3M840.5 12.5v-3M840.5 91.5v3M840.5 108.5v-3M840.5 346.5v3M865.5 12.5v-3M865.5 91.5v3M865.5 108.5v-3M865.5 346.5v3"/>
</g>
<path fill="#fee2d8" d="M910.5 30H933.4V46.4H975.5V49.6H979.8V51.6H963.2V54.5H942.2V57.5H933.4V76H928.5V71.5H923.5V68.4H910.5V60.5H933.4V43.6H924.8V40.6H910.5z"/>
<g fill="none" stroke="#a8a8a8" stroke-width="1.1" stroke-dasharray="1.1 1.84">
<path d="M933.5 91.5V12.5"/><path d="M979.5 91.5V12.5"/>
<path d="M910.5 51.5H992"/>
</g>
<path fill="none" stroke="#333" stroke-width="2.7" stroke-linejoin="round" d="M910.5 40.5H926.7V43.5H939.5V46.3H976.6V49.3H980.7V51.6H962.1V54.5H941.1V57.5H932.3V60.3H910.5M910.5 68.2H923V71.2H927.6V74.3H910.5"/>
<path fill="none" stroke="#c9683f" stroke-width="1.25" stroke-linejoin="miter" d="M910.5 40.6H924.8V43.6H936.8V46.5H975.5V49.7H979.8V51.6H963.2V54.5H942.2V57.5H933.2V60.5H910.5M910.5 68.5H923.5V71.5H928"/>
<path fill="none" stroke="#f58a5c" stroke-width="0.65" d="M928 71.5H929.5V74.5H921.5V77.6"/>
<path fill="none" stroke="#fbb49a" stroke-width="0.6" d="M928.3 76H933.4"/>
<path fill="none" stroke="#000" stroke-width="1.1" d="M910.5 12V91.5H992M910.5 51.5h-5"/>
<rect x="926" y="81" width="74" height="18" fill="#fff"/>
<g font-size="14">
<text x="50.8" y="329" text-anchor="end" textLength="7.7" lengthAdjust="spacingAndGlyphs">0</text>
<text x="50.8" y="296" text-anchor="end" textLength="7.7" lengthAdjust="spacingAndGlyphs">5</text>
<text x="50.8" y="263" text-anchor="end" textLength="15.8" lengthAdjust="spacingAndGlyphs">10</text>
<text x="50.8" y="230" text-anchor="end" textLength="15.8" lengthAdjust="spacingAndGlyphs">15</text>
<text x="50.8" y="196" text-anchor="end" textLength="15.8" lengthAdjust="spacingAndGlyphs">20</text>
<text x="50.8" y="163" text-anchor="end" textLength="15.8" lengthAdjust="spacingAndGlyphs">25</text>
<text x="50.8" y="130" text-anchor="end" textLength="15.8" lengthAdjust="spacingAndGlyphs">30</text>
<text x="127.2" y="365.7" text-anchor="middle" textLength="19.4" lengthAdjust="spacingAndGlyphs">0.7</text>
<text x="184.2" y="365.7" text-anchor="middle" textLength="19.4" lengthAdjust="spacingAndGlyphs">1.0</text>
<text x="236.2" y="365.7" text-anchor="middle" textLength="19.4" lengthAdjust="spacingAndGlyphs">1.5</text>
<text x="283.2" y="365.7" text-anchor="middle" textLength="19.4" lengthAdjust="spacingAndGlyphs">2.0</text>
<text x="336.2" y="365.7" text-anchor="middle" textLength="19.4" lengthAdjust="spacingAndGlyphs">2.5</text>
<text x="400.2" y="365.7" text-anchor="middle" textLength="19.4" lengthAdjust="spacingAndGlyphs">3.0</text>
<text x="474.2" y="365.7" text-anchor="middle" textLength="19.4" lengthAdjust="spacingAndGlyphs">3.5</text>
<text x="560.2" y="365.7" text-anchor="middle" textLength="19.4" lengthAdjust="spacingAndGlyphs">4.0</text>
<text x="657.2" y="365.7" text-anchor="middle" textLength="19.4" lengthAdjust="spacingAndGlyphs">4.5</text>
<text x="767.2" y="365.7" text-anchor="middle" textLength="19.4" lengthAdjust="spacingAndGlyphs">5.0</text>
<text x="890.2" y="365.7" text-anchor="middle" textLength="19.4" lengthAdjust="spacingAndGlyphs">5.5</text>
<text x="446.9" y="387.6" textLength="64" lengthAdjust="spacingAndGlyphs"><tspan font-style="italic">λ</tspan><tspan font-size="9.8" dy="2.2">obs</tspan><tspan dy="-2.2"> [</tspan><tspan font-style="italic">μ</tspan>m]</text>
<text transform="translate(20.2 314.6) rotate(-90)" textLength="173.5" lengthAdjust="spacingAndGlyphs"><tspan font-style="italic">f</tspan><tspan font-size="9.8" dy="2.2" font-style="italic">λ</tspan><tspan dy="-2.2"> [10</tspan><tspan font-size="9.8" dy="-5.3">−20</tspan><tspan dy="5.3"> ergs</tspan><tspan font-size="9.8" dy="-5.3">−1</tspan><tspan dy="5.3">cm</tspan><tspan font-size="9.8" dy="-5.3">−2</tspan><tspan dy="5.3">Å</tspan><tspan font-size="9.8" dy="-5.3">−1</tspan><tspan dy="5.3">]</tspan></text>
</g>
<text x="87.2" y="123.9" font-size="10.9" textLength="67" lengthAdjust="spacingAndGlyphs">5105_25242</text>
<text x="931.8" y="94.1" font-size="11.2" textLength="60.5" lengthAdjust="spacingAndGlyphs">-0.00 ± 0.45</text>
</svg>
</body></html>
